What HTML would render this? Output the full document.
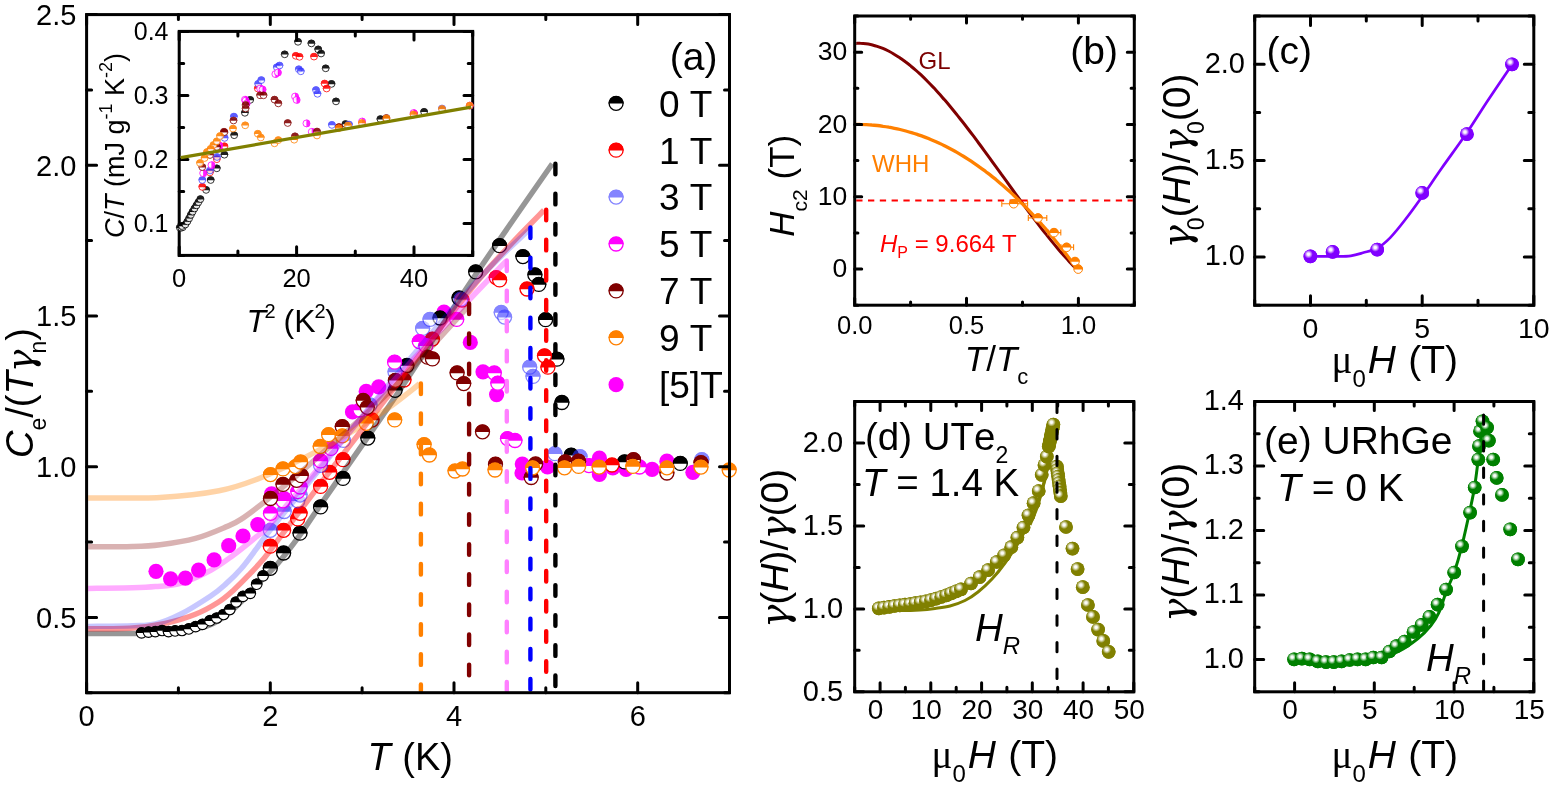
<!DOCTYPE html><html><head><meta charset="utf-8"><style>html,body{margin:0;padding:0;background:#fff;overflow:hidden}svg{display:block;font-kerning:none}</style></head><body><svg width="1550" height="790" viewBox="0 0 1550 790" style="font-family:'Liberation Sans',sans-serif">
<defs>
<radialGradient id="gsv" cx="0.36" cy="0.34" r="0.5"><stop offset="0" stop-color="#fff"/><stop offset="0.18" stop-color="#fff" stop-opacity="0.95"/><stop offset="0.62" stop-color="#8000ff"/><stop offset="1" stop-color="#8000ff"/></radialGradient>
<radialGradient id="gso" cx="0.36" cy="0.34" r="0.5"><stop offset="0" stop-color="#fff"/><stop offset="0.18" stop-color="#fff" stop-opacity="0.95"/><stop offset="0.62" stop-color="#808000"/><stop offset="1" stop-color="#808000"/></radialGradient>
<radialGradient id="gsg" cx="0.36" cy="0.34" r="0.5"><stop offset="0" stop-color="#fff"/><stop offset="0.18" stop-color="#fff" stop-opacity="0.95"/><stop offset="0.62" stop-color="#008000"/><stop offset="1" stop-color="#008000"/></radialGradient>
</defs>
<rect width="1550" height="790" fill="#fff"/>
<g transform="translate(156.0,571.3)"><circle r="7.6" fill="#ff00ff"/></g>
<g transform="translate(170.6,578.8)"><circle r="7.6" fill="#ff00ff"/></g>
<g transform="translate(185.4,578.1)"><circle r="7.6" fill="#ff00ff"/></g>
<g transform="translate(198.6,570.1)"><circle r="7.6" fill="#ff00ff"/></g>
<g transform="translate(214.1,559.9)"><circle r="7.6" fill="#ff00ff"/></g>
<g transform="translate(228.7,545.7)"><circle r="7.6" fill="#ff00ff"/></g>
<g transform="translate(243.0,536.0)"><circle r="7.6" fill="#ff00ff"/></g>
<g transform="translate(257.8,524.6)"><circle r="7.6" fill="#ff00ff"/></g>
<g transform="translate(271.6,493.9)"><circle r="7.6" fill="#ff00ff"/></g>
<g transform="translate(284.2,498.5)"><circle r="7.6" fill="#ff00ff"/></g>
<g transform="translate(352.5,411.9)"><circle r="7.6" fill="#ff00ff"/></g>
<g transform="translate(366.2,391.4)"><circle r="7.6" fill="#ff00ff"/></g>
<g transform="translate(378.7,386.8)"><circle r="7.6" fill="#ff00ff"/></g>
<g transform="translate(444.0,312.0)"><circle r="7.6" fill="#ff00ff"/></g>
<g transform="translate(470.3,342.4)"><circle r="7.6" fill="#ff00ff"/></g>
<g transform="translate(483.0,371.8)"><circle r="7.6" fill="#ff00ff"/></g>
<g transform="translate(496.6,394.6)"><circle r="7.6" fill="#ff00ff"/></g>
<g transform="translate(522.3,464.0)"><circle r="7.6" fill="#ff00ff"/></g>
<g transform="translate(522.0,473.0)"><circle r="7.6" fill="#ff00ff"/></g>
<g transform="translate(547.5,467.0)"><circle r="7.6" fill="#ff00ff"/></g>
<g transform="translate(599.4,458.2)"><circle r="7.6" fill="#ff00ff"/></g>
<g transform="translate(599.4,474.5)"><circle r="7.6" fill="#ff00ff"/></g>
<g transform="translate(612.8,467.8)"><circle r="7.6" fill="#ff00ff"/></g>
<g transform="translate(626.1,469.3)"><circle r="7.6" fill="#ff00ff"/></g>
<g transform="translate(652.1,469.3)"><circle r="7.6" fill="#ff00ff"/></g>
<g transform="translate(666.9,461.2)"><circle r="7.6" fill="#ff00ff"/></g>
<g transform="translate(692.9,472.3)"><circle r="7.6" fill="#ff00ff"/></g>
<g transform="translate(270.3,568.3)"><circle r="7.0" fill="#fff" stroke="#000000" stroke-width="1.3"/><path d="M-7.65,0.3A7.65,7.65 0 0 1 7.65,0.3Z" fill="#000000"/></g>
<g transform="translate(283.6,553.0)"><circle r="7.0" fill="#fff" stroke="#000000" stroke-width="1.3"/><path d="M-7.65,0.3A7.65,7.65 0 0 1 7.65,0.3Z" fill="#000000"/></g>
<g transform="translate(300.0,533.2)"><circle r="7.0" fill="#fff" stroke="#000000" stroke-width="1.3"/><path d="M-7.65,0.3A7.65,7.65 0 0 1 7.65,0.3Z" fill="#000000"/></g>
<g transform="translate(320.6,506.9)"><circle r="7.0" fill="#fff" stroke="#000000" stroke-width="1.3"/><path d="M-7.65,0.3A7.65,7.65 0 0 1 7.65,0.3Z" fill="#000000"/></g>
<g transform="translate(343.0,478.4)"><circle r="7.0" fill="#fff" stroke="#000000" stroke-width="1.3"/><path d="M-7.65,0.3A7.65,7.65 0 0 1 7.65,0.3Z" fill="#000000"/></g>
<g transform="translate(367.8,438.1)"><circle r="7.0" fill="#fff" stroke="#000000" stroke-width="1.3"/><path d="M-7.65,0.3A7.65,7.65 0 0 1 7.65,0.3Z" fill="#000000"/></g>
<g transform="translate(395.1,390.3)"><circle r="7.0" fill="#fff" stroke="#000000" stroke-width="1.3"/><path d="M-7.65,0.3A7.65,7.65 0 0 1 7.65,0.3Z" fill="#000000"/></g>
<g transform="translate(406.9,365.5)"><circle r="7.0" fill="#fff" stroke="#000000" stroke-width="1.3"/><path d="M-7.65,0.3A7.65,7.65 0 0 1 7.65,0.3Z" fill="#000000"/></g>
<g transform="translate(440.0,318.0)"><circle r="7.0" fill="#fff" stroke="#000000" stroke-width="1.3"/><path d="M-7.65,0.3A7.65,7.65 0 0 1 7.65,0.3Z" fill="#000000"/></g>
<g transform="translate(459.0,298.0)"><circle r="7.0" fill="#fff" stroke="#000000" stroke-width="1.3"/><path d="M-7.65,0.3A7.65,7.65 0 0 1 7.65,0.3Z" fill="#000000"/></g>
<g transform="translate(475.7,271.9)"><circle r="7.0" fill="#fff" stroke="#000000" stroke-width="1.3"/><path d="M-7.65,0.3A7.65,7.65 0 0 1 7.65,0.3Z" fill="#000000"/></g>
<g transform="translate(499.6,245.7)"><circle r="7.0" fill="#fff" stroke="#000000" stroke-width="1.3"/><path d="M-7.65,0.3A7.65,7.65 0 0 1 7.65,0.3Z" fill="#000000"/></g>
<g transform="translate(522.9,256.6)"><circle r="7.0" fill="#fff" stroke="#000000" stroke-width="1.3"/><path d="M-7.65,0.3A7.65,7.65 0 0 1 7.65,0.3Z" fill="#000000"/></g>
<g transform="translate(534.9,274.9)"><circle r="7.0" fill="#fff" stroke="#000000" stroke-width="1.3"/><path d="M-7.65,0.3A7.65,7.65 0 0 1 7.65,0.3Z" fill="#000000"/></g>
<g transform="translate(538.8,284.4)"><circle r="7.0" fill="#fff" stroke="#000000" stroke-width="1.3"/><path d="M-7.65,0.3A7.65,7.65 0 0 1 7.65,0.3Z" fill="#000000"/></g>
<g transform="translate(545.6,319.7)"><circle r="7.0" fill="#fff" stroke="#000000" stroke-width="1.3"/><path d="M-7.65,0.3A7.65,7.65 0 0 1 7.65,0.3Z" fill="#000000"/></g>
<g transform="translate(556.9,359.2)"><circle r="7.0" fill="#fff" stroke="#000000" stroke-width="1.3"/><path d="M-7.65,0.3A7.65,7.65 0 0 1 7.65,0.3Z" fill="#000000"/></g>
<g transform="translate(561.9,402.5)"><circle r="7.0" fill="#fff" stroke="#000000" stroke-width="1.3"/><path d="M-7.65,0.3A7.65,7.65 0 0 1 7.65,0.3Z" fill="#000000"/></g>
<g transform="translate(571.2,455.2)"><circle r="7.0" fill="#fff" stroke="#000000" stroke-width="1.3"/><path d="M-7.65,0.3A7.65,7.65 0 0 1 7.65,0.3Z" fill="#000000"/></g>
<g transform="translate(624.6,461.9)"><circle r="7.0" fill="#fff" stroke="#000000" stroke-width="1.3"/><path d="M-7.65,0.3A7.65,7.65 0 0 1 7.65,0.3Z" fill="#000000"/></g>
<g transform="translate(680.3,463.4)"><circle r="7.0" fill="#fff" stroke="#000000" stroke-width="1.3"/><path d="M-7.65,0.3A7.65,7.65 0 0 1 7.65,0.3Z" fill="#000000"/></g>
<g transform="translate(270.3,546.2)"><circle r="7.0" fill="#fff" stroke="#ff0000" stroke-width="1.3"/><path d="M-7.65,0.3A7.65,7.65 0 0 1 7.65,0.3Z" fill="#ff0000"/></g>
<g transform="translate(283.6,530.3)"><circle r="7.0" fill="#fff" stroke="#ff0000" stroke-width="1.3"/><path d="M-7.65,0.3A7.65,7.65 0 0 1 7.65,0.3Z" fill="#ff0000"/></g>
<g transform="translate(297.7,518.9)"><circle r="7.0" fill="#fff" stroke="#ff0000" stroke-width="1.3"/><path d="M-7.65,0.3A7.65,7.65 0 0 1 7.65,0.3Z" fill="#ff0000"/></g>
<g transform="translate(300.1,513.3)"><circle r="7.0" fill="#fff" stroke="#ff0000" stroke-width="1.3"/><path d="M-7.65,0.3A7.65,7.65 0 0 1 7.65,0.3Z" fill="#ff0000"/></g>
<g transform="translate(320.6,486.4)"><circle r="7.0" fill="#fff" stroke="#ff0000" stroke-width="1.3"/><path d="M-7.65,0.3A7.65,7.65 0 0 1 7.65,0.3Z" fill="#ff0000"/></g>
<g transform="translate(329.7,472.3)"><circle r="7.0" fill="#fff" stroke="#ff0000" stroke-width="1.3"/><path d="M-7.65,0.3A7.65,7.65 0 0 1 7.65,0.3Z" fill="#ff0000"/></g>
<g transform="translate(343.0,459.7)"><circle r="7.0" fill="#fff" stroke="#ff0000" stroke-width="1.3"/><path d="M-7.65,0.3A7.65,7.65 0 0 1 7.65,0.3Z" fill="#ff0000"/></g>
<g transform="translate(372.0,420.0)"><circle r="7.0" fill="#fff" stroke="#ff0000" stroke-width="1.3"/><path d="M-7.65,0.3A7.65,7.65 0 0 1 7.65,0.3Z" fill="#ff0000"/></g>
<g transform="translate(404.0,380.0)"><circle r="7.0" fill="#fff" stroke="#ff0000" stroke-width="1.3"/><path d="M-7.65,0.3A7.65,7.65 0 0 1 7.65,0.3Z" fill="#ff0000"/></g>
<g transform="translate(432.4,339.1)"><circle r="7.0" fill="#fff" stroke="#ff0000" stroke-width="1.3"/><path d="M-7.65,0.3A7.65,7.65 0 0 1 7.65,0.3Z" fill="#ff0000"/></g>
<g transform="translate(462.0,300.0)"><circle r="7.0" fill="#fff" stroke="#ff0000" stroke-width="1.3"/><path d="M-7.65,0.3A7.65,7.65 0 0 1 7.65,0.3Z" fill="#ff0000"/></g>
<g transform="translate(496.2,277.6)"><circle r="7.0" fill="#fff" stroke="#ff0000" stroke-width="1.3"/><path d="M-7.65,0.3A7.65,7.65 0 0 1 7.65,0.3Z" fill="#ff0000"/></g>
<g transform="translate(499.6,279.9)"><circle r="7.0" fill="#fff" stroke="#ff0000" stroke-width="1.3"/><path d="M-7.65,0.3A7.65,7.65 0 0 1 7.65,0.3Z" fill="#ff0000"/></g>
<g transform="translate(527.0,289.0)"><circle r="7.0" fill="#fff" stroke="#ff0000" stroke-width="1.3"/><path d="M-7.65,0.3A7.65,7.65 0 0 1 7.65,0.3Z" fill="#ff0000"/></g>
<g transform="translate(544.5,355.8)"><circle r="7.0" fill="#fff" stroke="#ff0000" stroke-width="1.3"/><path d="M-7.65,0.3A7.65,7.65 0 0 1 7.65,0.3Z" fill="#ff0000"/></g>
<g transform="translate(547.9,367.2)"><circle r="7.0" fill="#fff" stroke="#ff0000" stroke-width="1.3"/><path d="M-7.65,0.3A7.65,7.65 0 0 1 7.65,0.3Z" fill="#ff0000"/></g>
<g transform="translate(566.0,464.0)"><circle r="7.0" fill="#fff" stroke="#ff0000" stroke-width="1.3"/><path d="M-7.65,0.3A7.65,7.65 0 0 1 7.65,0.3Z" fill="#ff0000"/></g>
<g transform="translate(612.0,465.0)"><circle r="7.0" fill="#fff" stroke="#ff0000" stroke-width="1.3"/><path d="M-7.65,0.3A7.65,7.65 0 0 1 7.65,0.3Z" fill="#ff0000"/></g>
<g transform="translate(270.3,530.3)" opacity="0.6"><circle r="7.0" fill="#fff" stroke="#3333ff" stroke-width="1.3"/><path d="M-7.65,0.3A7.65,7.65 0 0 1 7.65,0.3Z" fill="#3333ff"/></g>
<g transform="translate(284.2,511.5)" opacity="0.6"><circle r="7.0" fill="#fff" stroke="#3333ff" stroke-width="1.3"/><path d="M-7.65,0.3A7.65,7.65 0 0 1 7.65,0.3Z" fill="#3333ff"/></g>
<g transform="translate(297.8,500.8)" opacity="0.6"><circle r="7.0" fill="#fff" stroke="#3333ff" stroke-width="1.3"/><path d="M-7.65,0.3A7.65,7.65 0 0 1 7.65,0.3Z" fill="#3333ff"/></g>
<g transform="translate(300.1,495.0)" opacity="0.6"><circle r="7.0" fill="#fff" stroke="#3333ff" stroke-width="1.3"/><path d="M-7.65,0.3A7.65,7.65 0 0 1 7.65,0.3Z" fill="#3333ff"/></g>
<g transform="translate(320.6,465.4)" opacity="0.6"><circle r="7.0" fill="#fff" stroke="#3333ff" stroke-width="1.3"/><path d="M-7.65,0.3A7.65,7.65 0 0 1 7.65,0.3Z" fill="#3333ff"/></g>
<g transform="translate(343.4,440.4)" opacity="0.6"><circle r="7.0" fill="#fff" stroke="#3333ff" stroke-width="1.3"/><path d="M-7.65,0.3A7.65,7.65 0 0 1 7.65,0.3Z" fill="#3333ff"/></g>
<g transform="translate(370.0,405.0)" opacity="0.6"><circle r="7.0" fill="#fff" stroke="#3333ff" stroke-width="1.3"/><path d="M-7.65,0.3A7.65,7.65 0 0 1 7.65,0.3Z" fill="#3333ff"/></g>
<g transform="translate(395.0,372.0)" opacity="0.6"><circle r="7.0" fill="#fff" stroke="#3333ff" stroke-width="1.3"/><path d="M-7.65,0.3A7.65,7.65 0 0 1 7.65,0.3Z" fill="#3333ff"/></g>
<g transform="translate(422.6,328.4)" opacity="0.6"><circle r="7.0" fill="#fff" stroke="#3333ff" stroke-width="1.3"/><path d="M-7.65,0.3A7.65,7.65 0 0 1 7.65,0.3Z" fill="#3333ff"/></g>
<g transform="translate(430.0,319.4)" opacity="0.6"><circle r="7.0" fill="#fff" stroke="#3333ff" stroke-width="1.3"/><path d="M-7.65,0.3A7.65,7.65 0 0 1 7.65,0.3Z" fill="#3333ff"/></g>
<g transform="translate(460.9,299.2)" opacity="0.6"><circle r="7.0" fill="#fff" stroke="#3333ff" stroke-width="1.3"/><path d="M-7.65,0.3A7.65,7.65 0 0 1 7.65,0.3Z" fill="#3333ff"/></g>
<g transform="translate(501.2,312.5)" opacity="0.6"><circle r="7.0" fill="#fff" stroke="#3333ff" stroke-width="1.3"/><path d="M-7.65,0.3A7.65,7.65 0 0 1 7.65,0.3Z" fill="#3333ff"/></g>
<g transform="translate(504.6,317.1)" opacity="0.6"><circle r="7.0" fill="#fff" stroke="#3333ff" stroke-width="1.3"/><path d="M-7.65,0.3A7.65,7.65 0 0 1 7.65,0.3Z" fill="#3333ff"/></g>
<g transform="translate(529.7,367.2)" opacity="0.6"><circle r="7.0" fill="#fff" stroke="#3333ff" stroke-width="1.3"/><path d="M-7.65,0.3A7.65,7.65 0 0 1 7.65,0.3Z" fill="#3333ff"/></g>
<g transform="translate(533.0,376.4)" opacity="0.6"><circle r="7.0" fill="#fff" stroke="#3333ff" stroke-width="1.3"/><path d="M-7.65,0.3A7.65,7.65 0 0 1 7.65,0.3Z" fill="#3333ff"/></g>
<g transform="translate(554.9,453.7)" opacity="0.6"><circle r="7.0" fill="#fff" stroke="#3333ff" stroke-width="1.3"/><path d="M-7.65,0.3A7.65,7.65 0 0 1 7.65,0.3Z" fill="#3333ff"/></g>
<g transform="translate(580.0,456.7)" opacity="0.6"><circle r="7.0" fill="#fff" stroke="#3333ff" stroke-width="1.3"/><path d="M-7.65,0.3A7.65,7.65 0 0 1 7.65,0.3Z" fill="#3333ff"/></g>
<g transform="translate(701.8,459.7)" opacity="0.6"><circle r="7.0" fill="#fff" stroke="#3333ff" stroke-width="1.3"/><path d="M-7.65,0.3A7.65,7.65 0 0 1 7.65,0.3Z" fill="#3333ff"/></g>
<g transform="translate(270.5,513.3)"><circle r="7.0" fill="#fff" stroke="#ff00ff" stroke-width="1.3"/><path d="M-7.65,0.3A7.65,7.65 0 0 1 7.65,0.3Z" fill="#ff00ff"/></g>
<g transform="translate(283.0,500.8)"><circle r="7.0" fill="#fff" stroke="#ff00ff" stroke-width="1.3"/><path d="M-7.65,0.3A7.65,7.65 0 0 1 7.65,0.3Z" fill="#ff00ff"/></g>
<g transform="translate(297.8,491.6)"><circle r="7.0" fill="#fff" stroke="#ff00ff" stroke-width="1.3"/><path d="M-7.65,0.3A7.65,7.65 0 0 1 7.65,0.3Z" fill="#ff00ff"/></g>
<g transform="translate(300.1,487.0)"><circle r="7.0" fill="#fff" stroke="#ff00ff" stroke-width="1.3"/><path d="M-7.65,0.3A7.65,7.65 0 0 1 7.65,0.3Z" fill="#ff00ff"/></g>
<g transform="translate(320.6,460.9)"><circle r="7.0" fill="#fff" stroke="#ff00ff" stroke-width="1.3"/><path d="M-7.65,0.3A7.65,7.65 0 0 1 7.65,0.3Z" fill="#ff00ff"/></g>
<g transform="translate(330.9,448.4)"><circle r="7.0" fill="#fff" stroke="#ff00ff" stroke-width="1.3"/><path d="M-7.65,0.3A7.65,7.65 0 0 1 7.65,0.3Z" fill="#ff00ff"/></g>
<g transform="translate(360.0,410.0)"><circle r="7.0" fill="#fff" stroke="#ff00ff" stroke-width="1.3"/><path d="M-7.65,0.3A7.65,7.65 0 0 1 7.65,0.3Z" fill="#ff00ff"/></g>
<g transform="translate(394.6,362.2)"><circle r="7.0" fill="#fff" stroke="#ff00ff" stroke-width="1.3"/><path d="M-7.65,0.3A7.65,7.65 0 0 1 7.65,0.3Z" fill="#ff00ff"/></g>
<g transform="translate(419.3,341.6)"><circle r="7.0" fill="#fff" stroke="#ff00ff" stroke-width="1.3"/><path d="M-7.65,0.3A7.65,7.65 0 0 1 7.65,0.3Z" fill="#ff00ff"/></g>
<g transform="translate(425.8,345.7)"><circle r="7.0" fill="#fff" stroke="#ff00ff" stroke-width="1.3"/><path d="M-7.65,0.3A7.65,7.65 0 0 1 7.65,0.3Z" fill="#ff00ff"/></g>
<g transform="translate(456.7,319.4)"><circle r="7.0" fill="#fff" stroke="#ff00ff" stroke-width="1.3"/><path d="M-7.65,0.3A7.65,7.65 0 0 1 7.65,0.3Z" fill="#ff00ff"/></g>
<g transform="translate(494.3,373.0)"><circle r="7.0" fill="#fff" stroke="#ff00ff" stroke-width="1.3"/><path d="M-7.65,0.3A7.65,7.65 0 0 1 7.65,0.3Z" fill="#ff00ff"/></g>
<g transform="translate(497.8,383.2)"><circle r="7.0" fill="#fff" stroke="#ff00ff" stroke-width="1.3"/><path d="M-7.65,0.3A7.65,7.65 0 0 1 7.65,0.3Z" fill="#ff00ff"/></g>
<g transform="translate(507.5,438.6)"><circle r="7.0" fill="#fff" stroke="#ff00ff" stroke-width="1.3"/><path d="M-7.65,0.3A7.65,7.65 0 0 1 7.65,0.3Z" fill="#ff00ff"/></g>
<g transform="translate(515.0,440.5)"><circle r="7.0" fill="#fff" stroke="#ff00ff" stroke-width="1.3"/><path d="M-7.65,0.3A7.65,7.65 0 0 1 7.65,0.3Z" fill="#ff00ff"/></g>
<g transform="translate(589.0,465.6)"><circle r="7.0" fill="#fff" stroke="#ff00ff" stroke-width="1.3"/><path d="M-7.65,0.3A7.65,7.65 0 0 1 7.65,0.3Z" fill="#ff00ff"/></g>
<g transform="translate(639.5,467.0)"><circle r="7.0" fill="#fff" stroke="#ff00ff" stroke-width="1.3"/><path d="M-7.65,0.3A7.65,7.65 0 0 1 7.65,0.3Z" fill="#ff00ff"/></g>
<g transform="translate(270.5,498.5)"><circle r="7.0" fill="#fff" stroke="#800000" stroke-width="1.3"/><path d="M-7.65,0.3A7.65,7.65 0 0 1 7.65,0.3Z" fill="#800000"/></g>
<g transform="translate(283.0,484.4)"><circle r="7.0" fill="#fff" stroke="#800000" stroke-width="1.3"/><path d="M-7.65,0.3A7.65,7.65 0 0 1 7.65,0.3Z" fill="#800000"/></g>
<g transform="translate(296.7,480.3)"><circle r="7.0" fill="#fff" stroke="#800000" stroke-width="1.3"/><path d="M-7.65,0.3A7.65,7.65 0 0 1 7.65,0.3Z" fill="#800000"/></g>
<g transform="translate(301.3,475.7)"><circle r="7.0" fill="#fff" stroke="#800000" stroke-width="1.3"/><path d="M-7.65,0.3A7.65,7.65 0 0 1 7.65,0.3Z" fill="#800000"/></g>
<g transform="translate(342.3,426.7)"><circle r="7.0" fill="#fff" stroke="#800000" stroke-width="1.3"/><path d="M-7.65,0.3A7.65,7.65 0 0 1 7.65,0.3Z" fill="#800000"/></g>
<g transform="translate(363.2,400.5)"><circle r="7.0" fill="#fff" stroke="#800000" stroke-width="1.3"/><path d="M-7.65,0.3A7.65,7.65 0 0 1 7.65,0.3Z" fill="#800000"/></g>
<g transform="translate(367.3,407.3)"><circle r="7.0" fill="#fff" stroke="#800000" stroke-width="1.3"/><path d="M-7.65,0.3A7.65,7.65 0 0 1 7.65,0.3Z" fill="#800000"/></g>
<g transform="translate(395.4,380.3)"><circle r="7.0" fill="#fff" stroke="#800000" stroke-width="1.3"/><path d="M-7.65,0.3A7.65,7.65 0 0 1 7.65,0.3Z" fill="#800000"/></g>
<g transform="translate(427.5,357.2)"><circle r="7.0" fill="#fff" stroke="#800000" stroke-width="1.3"/><path d="M-7.65,0.3A7.65,7.65 0 0 1 7.65,0.3Z" fill="#800000"/></g>
<g transform="translate(432.4,358.9)"><circle r="7.0" fill="#fff" stroke="#800000" stroke-width="1.3"/><path d="M-7.65,0.3A7.65,7.65 0 0 1 7.65,0.3Z" fill="#800000"/></g>
<g transform="translate(457.1,372.9)"><circle r="7.0" fill="#fff" stroke="#800000" stroke-width="1.3"/><path d="M-7.65,0.3A7.65,7.65 0 0 1 7.65,0.3Z" fill="#800000"/></g>
<g transform="translate(463.7,383.6)"><circle r="7.0" fill="#fff" stroke="#800000" stroke-width="1.3"/><path d="M-7.65,0.3A7.65,7.65 0 0 1 7.65,0.3Z" fill="#800000"/></g>
<g transform="translate(482.5,431.8)"><circle r="7.0" fill="#fff" stroke="#800000" stroke-width="1.3"/><path d="M-7.65,0.3A7.65,7.65 0 0 1 7.65,0.3Z" fill="#800000"/></g>
<g transform="translate(495.5,464.1)"><circle r="7.0" fill="#fff" stroke="#800000" stroke-width="1.3"/><path d="M-7.65,0.3A7.65,7.65 0 0 1 7.65,0.3Z" fill="#800000"/></g>
<g transform="translate(531.2,477.5)"><circle r="7.0" fill="#fff" stroke="#800000" stroke-width="1.3"/><path d="M-7.65,0.3A7.65,7.65 0 0 1 7.65,0.3Z" fill="#800000"/></g>
<g transform="translate(535.6,464.0)"><circle r="7.0" fill="#fff" stroke="#800000" stroke-width="1.3"/><path d="M-7.65,0.3A7.65,7.65 0 0 1 7.65,0.3Z" fill="#800000"/></g>
<g transform="translate(565.3,461.9)"><circle r="7.0" fill="#fff" stroke="#800000" stroke-width="1.3"/><path d="M-7.65,0.3A7.65,7.65 0 0 1 7.65,0.3Z" fill="#800000"/></g>
<g transform="translate(578.6,461.2)"><circle r="7.0" fill="#fff" stroke="#800000" stroke-width="1.3"/><path d="M-7.65,0.3A7.65,7.65 0 0 1 7.65,0.3Z" fill="#800000"/></g>
<g transform="translate(633.5,459.7)"><circle r="7.0" fill="#fff" stroke="#800000" stroke-width="1.3"/><path d="M-7.65,0.3A7.65,7.65 0 0 1 7.65,0.3Z" fill="#800000"/></g>
<g transform="translate(666.9,473.0)"><circle r="7.0" fill="#fff" stroke="#800000" stroke-width="1.3"/><path d="M-7.65,0.3A7.65,7.65 0 0 1 7.65,0.3Z" fill="#800000"/></g>
<g transform="translate(701.0,462.6)"><circle r="7.0" fill="#fff" stroke="#800000" stroke-width="1.3"/><path d="M-7.65,0.3A7.65,7.65 0 0 1 7.65,0.3Z" fill="#800000"/></g>
<g transform="translate(270.5,474.6)"><circle r="7.0" fill="#fff" stroke="#ff8000" stroke-width="1.3"/><path d="M-7.65,0.3A7.65,7.65 0 0 1 7.65,0.3Z" fill="#ff8000"/></g>
<g transform="translate(283.0,468.9)"><circle r="7.0" fill="#fff" stroke="#ff8000" stroke-width="1.3"/><path d="M-7.65,0.3A7.65,7.65 0 0 1 7.65,0.3Z" fill="#ff8000"/></g>
<g transform="translate(295.6,466.6)"><circle r="7.0" fill="#fff" stroke="#ff8000" stroke-width="1.3"/><path d="M-7.65,0.3A7.65,7.65 0 0 1 7.65,0.3Z" fill="#ff8000"/></g>
<g transform="translate(300.6,462.0)"><circle r="7.0" fill="#fff" stroke="#ff8000" stroke-width="1.3"/><path d="M-7.65,0.3A7.65,7.65 0 0 1 7.65,0.3Z" fill="#ff8000"/></g>
<g transform="translate(320.2,446.5)"><circle r="7.0" fill="#fff" stroke="#ff8000" stroke-width="1.3"/><path d="M-7.65,0.3A7.65,7.65 0 0 1 7.65,0.3Z" fill="#ff8000"/></g>
<g transform="translate(328.6,434.7)"><circle r="7.0" fill="#fff" stroke="#ff8000" stroke-width="1.3"/><path d="M-7.65,0.3A7.65,7.65 0 0 1 7.65,0.3Z" fill="#ff8000"/></g>
<g transform="translate(342.3,435.8)"><circle r="7.0" fill="#fff" stroke="#ff8000" stroke-width="1.3"/><path d="M-7.65,0.3A7.65,7.65 0 0 1 7.65,0.3Z" fill="#ff8000"/></g>
<g transform="translate(366.2,423.3)"><circle r="7.0" fill="#fff" stroke="#ff8000" stroke-width="1.3"/><path d="M-7.65,0.3A7.65,7.65 0 0 1 7.65,0.3Z" fill="#ff8000"/></g>
<g transform="translate(394.7,419.9)"><circle r="7.0" fill="#fff" stroke="#ff8000" stroke-width="1.3"/><path d="M-7.65,0.3A7.65,7.65 0 0 1 7.65,0.3Z" fill="#ff8000"/></g>
<g transform="translate(424.1,444.7)"><circle r="7.0" fill="#fff" stroke="#ff8000" stroke-width="1.3"/><path d="M-7.65,0.3A7.65,7.65 0 0 1 7.65,0.3Z" fill="#ff8000"/></g>
<g transform="translate(429.4,455.0)"><circle r="7.0" fill="#fff" stroke="#ff8000" stroke-width="1.3"/><path d="M-7.65,0.3A7.65,7.65 0 0 1 7.65,0.3Z" fill="#ff8000"/></g>
<g transform="translate(455.0,471.0)"><circle r="7.0" fill="#fff" stroke="#ff8000" stroke-width="1.3"/><path d="M-7.65,0.3A7.65,7.65 0 0 1 7.65,0.3Z" fill="#ff8000"/></g>
<g transform="translate(462.5,469.0)"><circle r="7.0" fill="#fff" stroke="#ff8000" stroke-width="1.3"/><path d="M-7.65,0.3A7.65,7.65 0 0 1 7.65,0.3Z" fill="#ff8000"/></g>
<g transform="translate(495.0,470.0)"><circle r="7.0" fill="#fff" stroke="#ff8000" stroke-width="1.3"/><path d="M-7.65,0.3A7.65,7.65 0 0 1 7.65,0.3Z" fill="#ff8000"/></g>
<g transform="translate(532.6,467.8)"><circle r="7.0" fill="#fff" stroke="#ff8000" stroke-width="1.3"/><path d="M-7.65,0.3A7.65,7.65 0 0 1 7.65,0.3Z" fill="#ff8000"/></g>
<g transform="translate(564.5,467.8)"><circle r="7.0" fill="#fff" stroke="#ff8000" stroke-width="1.3"/><path d="M-7.65,0.3A7.65,7.65 0 0 1 7.65,0.3Z" fill="#ff8000"/></g>
<g transform="translate(578.6,466.4)"><circle r="7.0" fill="#fff" stroke="#ff8000" stroke-width="1.3"/><path d="M-7.65,0.3A7.65,7.65 0 0 1 7.65,0.3Z" fill="#ff8000"/></g>
<g transform="translate(599.1,467.1)"><circle r="7.0" fill="#fff" stroke="#ff8000" stroke-width="1.3"/><path d="M-7.65,0.3A7.65,7.65 0 0 1 7.65,0.3Z" fill="#ff8000"/></g>
<g transform="translate(632.8,466.4)"><circle r="7.0" fill="#fff" stroke="#ff8000" stroke-width="1.3"/><path d="M-7.65,0.3A7.65,7.65 0 0 1 7.65,0.3Z" fill="#ff8000"/></g>
<g transform="translate(666.9,467.8)"><circle r="7.0" fill="#fff" stroke="#ff8000" stroke-width="1.3"/><path d="M-7.65,0.3A7.65,7.65 0 0 1 7.65,0.3Z" fill="#ff8000"/></g>
<g transform="translate(701.0,467.1)"><circle r="7.0" fill="#fff" stroke="#ff8000" stroke-width="1.3"/><path d="M-7.65,0.3A7.65,7.65 0 0 1 7.65,0.3Z" fill="#ff8000"/></g>
<g transform="translate(729.2,470.0)"><circle r="7.0" fill="#fff" stroke="#ff8000" stroke-width="1.3"/><path d="M-7.65,0.3A7.65,7.65 0 0 1 7.65,0.3Z" fill="#ff8000"/></g>
<path d="M88.1,633.6C97.0,633.6 126.7,633.7 141.7,633.3C156.8,633.0 167.7,632.7 178.4,631.5C189.2,630.4 198.4,628.9 206.0,626.4C213.7,623.9 218.3,621.1 224.4,616.8C230.5,612.4 236.6,606.2 242.7,600.2C248.9,594.1 255.3,586.7 261.1,580.6C266.9,574.5 271.2,571.2 277.6,563.7C284.1,556.2 292.7,545.0 299.7,535.4C306.7,525.7 304.4,528.3 319.9,505.8C335.4,483.3 367.0,438.8 392.9,400.4C418.8,361.9 448.7,314.7 475.2,275.3C501.8,235.9 539.4,182.4 552.3,163.8" fill="none" stroke="#000000" stroke-opacity="0.41" stroke-width="5.5" stroke-linecap="butt"/>
<path d="M88.1,628.8C95.5,628.7 119.7,628.8 132.5,627.9C145.4,627.0 154.7,625.6 165.2,623.4C175.7,621.1 186.6,617.9 195.4,614.3C204.3,610.8 212.0,606.3 218.3,602.3C224.7,598.3 228.4,594.8 233.5,590.2C238.5,585.7 243.6,580.4 248.6,575.2C253.7,569.9 258.8,564.7 263.9,558.6C268.9,552.5 268.8,552.3 279.0,538.7C289.3,525.1 307.8,500.3 325.4,477.2C343.0,454.2 359.1,433.2 384.7,400.4C410.2,367.5 452.0,311.8 478.5,280.1C505.1,248.4 533.1,221.8 544.0,210.2" fill="none" stroke="#ff0000" stroke-opacity="0.41" stroke-width="5.5" stroke-linecap="butt"/>
<path d="M88.1,626.4C95.5,626.3 121.3,626.2 132.5,625.8C143.8,625.4 147.5,625.9 155.5,624.0C163.5,622.1 171.2,619.0 180.4,614.3C189.6,609.7 203.1,601.0 210.7,596.0C218.3,590.9 220.9,588.4 225.9,583.9C231.0,579.4 236.0,574.7 241.1,568.8C246.2,563.0 251.8,555.0 256.3,548.9C260.9,542.9 259.9,543.1 268.4,532.4C276.8,521.7 288.3,507.8 307.0,484.7C325.7,461.7 353.0,427.5 380.5,394.3C408.1,361.2 447.4,313.5 472.4,285.8C497.3,258.2 520.6,238.1 530.2,228.6" fill="none" stroke="#0000ff" stroke-opacity="0.22" stroke-width="5.5" stroke-linecap="butt"/>
<path d="M88.1,588.4C95.5,588.3 121.3,588.1 132.5,587.8C143.8,587.5 147.5,587.4 155.5,586.6C163.5,585.9 171.2,586.0 180.4,583.3C189.6,580.6 201.8,575.1 210.7,570.3C219.6,565.6 226.0,560.5 233.6,555.0C241.2,549.4 250.5,541.7 256.3,536.9C262.1,532.1 259.9,535.5 268.4,526.3C276.8,517.1 286.8,505.2 307.0,481.7C327.3,458.2 365.2,412.9 389.7,385.3C414.2,357.7 434.6,336.7 454.0,316.0C473.4,295.2 497.6,270.0 506.4,260.8" fill="none" stroke="#ff00ff" stroke-opacity="0.33" stroke-width="5.5" stroke-linecap="butt"/>
<path d="M88.1,546.8C95.5,546.8 120.5,546.9 132.5,546.5C144.5,546.2 149.6,546.1 160.1,544.7C170.6,543.4 184.6,541.4 195.5,538.4C206.5,535.4 218.4,530.1 225.9,526.9C233.5,523.8 234.1,523.9 240.9,519.4C247.8,514.9 256.0,508.6 267.0,499.8C278.0,491.0 286.6,484.7 307.0,466.7C327.5,448.6 362.7,418.2 389.7,391.3C416.7,364.4 455.9,319.7 469.2,305.4" fill="none" stroke="#800000" stroke-opacity="0.3" stroke-width="5.5" stroke-linecap="butt"/>
<path d="M88.1,498.0C100.1,497.9 138.3,498.6 160.1,497.4C181.9,496.2 202.1,494.1 219.0,490.8C235.9,487.5 245.3,484.0 261.5,477.5C277.7,471.0 296.8,461.9 316.2,451.6C335.6,441.3 360.5,426.7 377.8,415.4C395.0,404.1 412.7,389.1 419.6,383.8" fill="none" stroke="#ff8000" stroke-opacity="0.35" stroke-width="5.5" stroke-linecap="butt"/>
<g transform="translate(141.6,632.8)"><circle r="5.3" fill="#fff" stroke="#000" stroke-width="1.1"/><path d="M-5.85,0.3A5.85,5.85 0 0 1 5.85,0.3Z" fill="#000"/></g>
<g transform="translate(148.5,632.1)"><circle r="5.3" fill="#fff" stroke="#000" stroke-width="1.1"/><path d="M-5.85,0.3A5.85,5.85 0 0 1 5.85,0.3Z" fill="#000"/></g>
<g transform="translate(155.3,631.6)"><circle r="5.3" fill="#fff" stroke="#000" stroke-width="1.1"/><path d="M-5.85,0.3A5.85,5.85 0 0 1 5.85,0.3Z" fill="#000"/></g>
<g transform="translate(162.1,630.5)"><circle r="5.3" fill="#fff" stroke="#000" stroke-width="1.1"/><path d="M-5.85,0.3A5.85,5.85 0 0 1 5.85,0.3Z" fill="#000"/></g>
<g transform="translate(168.5,631.6)"><circle r="5.3" fill="#fff" stroke="#000" stroke-width="1.1"/><path d="M-5.85,0.3A5.85,5.85 0 0 1 5.85,0.3Z" fill="#000"/></g>
<g transform="translate(175.1,630.9)"><circle r="5.3" fill="#fff" stroke="#000" stroke-width="1.1"/><path d="M-5.85,0.3A5.85,5.85 0 0 1 5.85,0.3Z" fill="#000"/></g>
<g transform="translate(182.0,630.5)"><circle r="5.3" fill="#fff" stroke="#000" stroke-width="1.1"/><path d="M-5.85,0.3A5.85,5.85 0 0 1 5.85,0.3Z" fill="#000"/></g>
<g transform="translate(188.8,628.9)"><circle r="5.3" fill="#fff" stroke="#000" stroke-width="1.1"/><path d="M-5.85,0.3A5.85,5.85 0 0 1 5.85,0.3Z" fill="#000"/></g>
<g transform="translate(195.6,626.6)"><circle r="5.3" fill="#fff" stroke="#000" stroke-width="1.1"/><path d="M-5.85,0.3A5.85,5.85 0 0 1 5.85,0.3Z" fill="#000"/></g>
<g transform="translate(202.5,624.3)"><circle r="5.3" fill="#fff" stroke="#000" stroke-width="1.1"/><path d="M-5.85,0.3A5.85,5.85 0 0 1 5.85,0.3Z" fill="#000"/></g>
<g transform="translate(210.0,620.7)"><circle r="5.3" fill="#fff" stroke="#000" stroke-width="1.1"/><path d="M-5.85,0.3A5.85,5.85 0 0 1 5.85,0.3Z" fill="#000"/></g>
<g transform="translate(216.8,618.0)"><circle r="5.3" fill="#fff" stroke="#000" stroke-width="1.1"/><path d="M-5.85,0.3A5.85,5.85 0 0 1 5.85,0.3Z" fill="#000"/></g>
<g transform="translate(223.6,614.5)"><circle r="5.3" fill="#fff" stroke="#000" stroke-width="1.1"/><path d="M-5.85,0.3A5.85,5.85 0 0 1 5.85,0.3Z" fill="#000"/></g>
<g transform="translate(229.8,609.5)"><circle r="5.3" fill="#fff" stroke="#000" stroke-width="1.1"/><path d="M-5.85,0.3A5.85,5.85 0 0 1 5.85,0.3Z" fill="#000"/></g>
<g transform="translate(236.2,602.0)"><circle r="5.3" fill="#fff" stroke="#000" stroke-width="1.1"/><path d="M-5.85,0.3A5.85,5.85 0 0 1 5.85,0.3Z" fill="#000"/></g>
<g transform="translate(243.0,596.3)"><circle r="5.3" fill="#fff" stroke="#000" stroke-width="1.1"/><path d="M-5.85,0.3A5.85,5.85 0 0 1 5.85,0.3Z" fill="#000"/></g>
<g transform="translate(250.3,593.3)"><circle r="5.3" fill="#fff" stroke="#000" stroke-width="1.1"/><path d="M-5.85,0.3A5.85,5.85 0 0 1 5.85,0.3Z" fill="#000"/></g>
<g transform="translate(256.7,584.2)"><circle r="5.3" fill="#fff" stroke="#000" stroke-width="1.1"/><path d="M-5.85,0.3A5.85,5.85 0 0 1 5.85,0.3Z" fill="#000"/></g>
<g transform="translate(263.1,575.8)"><circle r="5.3" fill="#fff" stroke="#000" stroke-width="1.1"/><path d="M-5.85,0.3A5.85,5.85 0 0 1 5.85,0.3Z" fill="#000"/></g>
<path d="M420.9,383.4V690.7" stroke="#ff8000" stroke-width="4.4" stroke-dasharray="10.6 19.5" stroke-linecap="round" fill="none"/>
<path d="M469.1,303.4V690.7" stroke="#800000" stroke-width="4.4" stroke-dasharray="10.6 19.5" stroke-linecap="round" fill="none"/>
<path d="M506.8,260.5V690.7" stroke="#ff80ff" stroke-width="4.4" stroke-dasharray="10.6 19.5" stroke-linecap="round" fill="none"/>
<path d="M530.4,227.5V690.7" stroke="#0000ff" stroke-width="4.4" stroke-dasharray="10.6 19.5" stroke-linecap="round" fill="none"/>
<path d="M546.2,209.7V690.7" stroke="#ff0000" stroke-width="4.4" stroke-dasharray="10.6 19.5" stroke-linecap="round" fill="none"/>
<path d="M555.4,163.7V690.7" stroke="#000000" stroke-width="4.4" stroke-dasharray="10.6 19.5" stroke-linecap="round" fill="none"/>
<g transform="translate(616.1,103.3)"><circle r="7.0" fill="#fff" stroke="#000000" stroke-width="1.3"/><path d="M-7.65,0.3A7.65,7.65 0 0 1 7.65,0.3Z" fill="#000000"/></g>
<g transform="translate(616.1,150.2)"><circle r="7.0" fill="#fff" stroke="#ff0000" stroke-width="1.3"/><path d="M-7.65,0.3A7.65,7.65 0 0 1 7.65,0.3Z" fill="#ff0000"/></g>
<g transform="translate(616.1,197.1)" opacity="0.6"><circle r="7.0" fill="#fff" stroke="#3333ff" stroke-width="1.3"/><path d="M-7.65,0.3A7.65,7.65 0 0 1 7.65,0.3Z" fill="#3333ff"/></g>
<g transform="translate(616.1,244.0)"><circle r="7.0" fill="#fff" stroke="#ff00ff" stroke-width="1.3"/><path d="M-7.65,0.3A7.65,7.65 0 0 1 7.65,0.3Z" fill="#ff00ff"/></g>
<g transform="translate(616.1,290.9)"><circle r="7.0" fill="#fff" stroke="#800000" stroke-width="1.3"/><path d="M-7.65,0.3A7.65,7.65 0 0 1 7.65,0.3Z" fill="#800000"/></g>
<g transform="translate(616.1,337.8)"><circle r="7.0" fill="#fff" stroke="#ff8000" stroke-width="1.3"/><path d="M-7.65,0.3A7.65,7.65 0 0 1 7.65,0.3Z" fill="#ff8000"/></g>
<g transform="translate(616.1,384.7)"><circle r="7.6" fill="#ff00ff"/></g>
<path d="M86.6,692.7v-10.0M86.6,14.6v10.0M270.3,692.7v-10.0M270.3,14.6v10.0M454.0,692.7v-10.0M454.0,14.6v10.0M637.7,692.7v-10.0M637.7,14.6v10.0M178.4,692.7v-5.0M178.4,14.6v5.0M362.1,692.7v-5.0M362.1,14.6v5.0M545.8,692.7v-5.0M545.8,14.6v5.0M729.5,692.7v-5.0M729.5,14.6v5.0M86.6,617.4h10.0M729.5,617.4h-10.0M86.6,466.7h10.0M729.5,466.7h-10.0M86.6,316.0h10.0M729.5,316.0h-10.0M86.6,165.3h10.0M729.5,165.3h-10.0M86.6,14.6h10.0M729.5,14.6h-10.0M86.6,692.7h5.0M729.5,692.7h-5.0M86.6,617.4h5.0M729.5,617.4h-5.0M86.6,542.0h5.0M729.5,542.0h-5.0M86.6,466.7h5.0M729.5,466.7h-5.0M86.6,391.3h5.0M729.5,391.3h-5.0M86.6,316.0h5.0M729.5,316.0h-5.0M86.6,240.6h5.0M729.5,240.6h-5.0M86.6,165.3h5.0M729.5,165.3h-5.0M86.6,89.9h5.0M729.5,89.9h-5.0M86.6,14.6h5.0M729.5,14.6h-5.0" stroke="#000" stroke-width="3" stroke-linecap="round" fill="none"/>
<rect x="86.6" y="14.6" width="642.9" height="678.1" fill="none" stroke="#000" stroke-width="3" stroke-linejoin="miter"/>
<text x="86.6" y="726.0" font-size="29" text-anchor="middle" >0</text>
<text x="270.3" y="726.0" font-size="29" text-anchor="middle" >2</text>
<text x="454.0" y="726.0" font-size="29" text-anchor="middle" >4</text>
<text x="637.7" y="726.0" font-size="29" text-anchor="middle" >6</text>
<text x="76.4" y="627.7" font-size="29" text-anchor="end" >0.5</text>
<text x="76.4" y="477.0" font-size="29" text-anchor="end" >1.0</text>
<text x="76.4" y="326.4" font-size="29" text-anchor="end" >1.5</text>
<text x="76.4" y="175.7" font-size="29" text-anchor="end" >2.0</text>
<text x="76.4" y="25.0" font-size="29" text-anchor="end" >2.5</text>
<rect x="179.2" y="31.4" width="293.5" height="224.0" fill="#fff"/>
<path d="M179.2,255.4v-8.7M179.2,31.4v8.7M296.6,255.4v-8.7M296.6,31.4v8.7M414.0,255.4v-8.7M414.0,31.4v8.7M237.9,255.4v-4.5M237.9,31.4v4.5M355.3,255.4v-4.5M355.3,31.4v4.5M472.7,255.4v-4.5M472.7,31.4v4.5M179.2,223.4h8.7M472.7,223.4h-8.7M179.2,159.4h8.7M472.7,159.4h-8.7M179.2,95.4h8.7M472.7,95.4h-8.7M179.2,31.4h8.7M472.7,31.4h-8.7M179.2,255.4h4.5M472.7,255.4h-4.5M179.2,191.4h4.5M472.7,191.4h-4.5M179.2,127.4h4.5M472.7,127.4h-4.5M179.2,63.4h4.5M472.7,63.4h-4.5" stroke="#000" stroke-width="3" stroke-linecap="round" fill="none"/>
<rect x="179.2" y="31.4" width="293.5" height="224.0" fill="none" stroke="#000" stroke-width="3" stroke-linejoin="miter"/>
<g transform="translate(179.8,227.6)" opacity="0.88"><circle r="3.4" fill="#fff" stroke="#000000" stroke-width="0.9"/><path d="M-3.85,0.3A3.85,3.85 0 0 1 3.85,0.3Z" fill="#000000"/></g>
<g transform="translate(181.3,227.8)" opacity="0.88"><circle r="3.4" fill="#fff" stroke="#000000" stroke-width="0.9"/><path d="M-3.85,0.3A3.85,3.85 0 0 1 3.85,0.3Z" fill="#000000"/></g>
<g transform="translate(182.8,227.2)" opacity="0.88"><circle r="3.4" fill="#fff" stroke="#000000" stroke-width="0.9"/><path d="M-3.85,0.3A3.85,3.85 0 0 1 3.85,0.3Z" fill="#000000"/></g>
<g transform="translate(182.0,226.0)" opacity="0.88"><circle r="3.4" fill="#fff" stroke="#000000" stroke-width="0.9"/><path d="M-3.85,0.3A3.85,3.85 0 0 1 3.85,0.3Z" fill="#000000"/></g>
<g transform="translate(185.4,224.5)" opacity="0.88"><circle r="3.4" fill="#fff" stroke="#000000" stroke-width="0.9"/><path d="M-3.85,0.3A3.85,3.85 0 0 1 3.85,0.3Z" fill="#000000"/></g>
<g transform="translate(187.4,221.5)" opacity="0.88"><circle r="3.4" fill="#fff" stroke="#000000" stroke-width="0.9"/><path d="M-3.85,0.3A3.85,3.85 0 0 1 3.85,0.3Z" fill="#000000"/></g>
<g transform="translate(189.2,218.3)" opacity="0.88"><circle r="3.4" fill="#fff" stroke="#000000" stroke-width="0.9"/><path d="M-3.85,0.3A3.85,3.85 0 0 1 3.85,0.3Z" fill="#000000"/></g>
<g transform="translate(190.9,214.9)" opacity="0.88"><circle r="3.4" fill="#fff" stroke="#000000" stroke-width="0.9"/><path d="M-3.85,0.3A3.85,3.85 0 0 1 3.85,0.3Z" fill="#000000"/></g>
<g transform="translate(192.6,211.7)" opacity="0.88"><circle r="3.4" fill="#fff" stroke="#000000" stroke-width="0.9"/><path d="M-3.85,0.3A3.85,3.85 0 0 1 3.85,0.3Z" fill="#000000"/></g>
<g transform="translate(194.5,208.5)" opacity="0.88"><circle r="3.4" fill="#fff" stroke="#000000" stroke-width="0.9"/><path d="M-3.85,0.3A3.85,3.85 0 0 1 3.85,0.3Z" fill="#000000"/></g>
<g transform="translate(196.5,205.4)" opacity="0.88"><circle r="3.4" fill="#fff" stroke="#000000" stroke-width="0.9"/><path d="M-3.85,0.3A3.85,3.85 0 0 1 3.85,0.3Z" fill="#000000"/></g>
<g transform="translate(198.4,202.2)" opacity="0.88"><circle r="3.4" fill="#fff" stroke="#000000" stroke-width="0.9"/><path d="M-3.85,0.3A3.85,3.85 0 0 1 3.85,0.3Z" fill="#000000"/></g>
<g transform="translate(200.4,199.1)" opacity="0.88"><circle r="3.4" fill="#fff" stroke="#000000" stroke-width="0.9"/><path d="M-3.85,0.3A3.85,3.85 0 0 1 3.85,0.3Z" fill="#000000"/></g>
<g transform="translate(206.1,189.9)" opacity="0.88"><circle r="3.4" fill="#fff" stroke="#000000" stroke-width="0.9"/><path d="M-3.85,0.3A3.85,3.85 0 0 1 3.85,0.3Z" fill="#000000"/></g>
<g transform="translate(210.7,180.0)" opacity="0.88"><circle r="3.4" fill="#fff" stroke="#000000" stroke-width="0.9"/><path d="M-3.85,0.3A3.85,3.85 0 0 1 3.85,0.3Z" fill="#000000"/></g>
<g transform="translate(216.8,168.3)" opacity="0.88"><circle r="3.4" fill="#fff" stroke="#000000" stroke-width="0.9"/><path d="M-3.85,0.3A3.85,3.85 0 0 1 3.85,0.3Z" fill="#000000"/></g>
<g transform="translate(224.4,154.7)" opacity="0.88"><circle r="3.4" fill="#fff" stroke="#000000" stroke-width="0.9"/><path d="M-3.85,0.3A3.85,3.85 0 0 1 3.85,0.3Z" fill="#000000"/></g>
<g transform="translate(234.2,135.2)" opacity="0.88"><circle r="3.4" fill="#fff" stroke="#000000" stroke-width="0.9"/><path d="M-3.85,0.3A3.85,3.85 0 0 1 3.85,0.3Z" fill="#000000"/></g>
<g transform="translate(244.9,112.8)" opacity="0.88"><circle r="3.4" fill="#fff" stroke="#000000" stroke-width="0.9"/><path d="M-3.85,0.3A3.85,3.85 0 0 1 3.85,0.3Z" fill="#000000"/></g>
<g transform="translate(250.2,99.9)" opacity="0.88"><circle r="3.4" fill="#fff" stroke="#000000" stroke-width="0.9"/><path d="M-3.85,0.3A3.85,3.85 0 0 1 3.85,0.3Z" fill="#000000"/></g>
<g transform="translate(284.7,54.3)" opacity="0.88"><circle r="3.4" fill="#fff" stroke="#000000" stroke-width="0.9"/><path d="M-3.85,0.3A3.85,3.85 0 0 1 3.85,0.3Z" fill="#000000"/></g>
<g transform="translate(298.0,41.8)" opacity="0.88"><circle r="3.4" fill="#fff" stroke="#000000" stroke-width="0.9"/><path d="M-3.85,0.3A3.85,3.85 0 0 1 3.85,0.3Z" fill="#000000"/></g>
<g transform="translate(311.4,43.4)" opacity="0.88"><circle r="3.4" fill="#fff" stroke="#000000" stroke-width="0.9"/><path d="M-3.85,0.3A3.85,3.85 0 0 1 3.85,0.3Z" fill="#000000"/></g>
<g transform="translate(318.2,49.4)" opacity="0.88"><circle r="3.4" fill="#fff" stroke="#000000" stroke-width="0.9"/><path d="M-3.85,0.3A3.85,3.85 0 0 1 3.85,0.3Z" fill="#000000"/></g>
<g transform="translate(321.1,53.5)" opacity="0.88"><circle r="3.4" fill="#fff" stroke="#000000" stroke-width="0.9"/><path d="M-3.85,0.3A3.85,3.85 0 0 1 3.85,0.3Z" fill="#000000"/></g>
<g transform="translate(325.7,68.3)" opacity="0.88"><circle r="3.4" fill="#fff" stroke="#000000" stroke-width="0.9"/><path d="M-3.85,0.3A3.85,3.85 0 0 1 3.85,0.3Z" fill="#000000"/></g>
<g transform="translate(331.5,83.9)" opacity="0.88"><circle r="3.4" fill="#fff" stroke="#000000" stroke-width="0.9"/><path d="M-3.85,0.3A3.85,3.85 0 0 1 3.85,0.3Z" fill="#000000"/></g>
<g transform="translate(336.0,101.4)" opacity="0.88"><circle r="3.4" fill="#fff" stroke="#000000" stroke-width="0.9"/><path d="M-3.85,0.3A3.85,3.85 0 0 1 3.85,0.3Z" fill="#000000"/></g>
<g transform="translate(345.5,124.0)" opacity="0.88"><circle r="3.4" fill="#fff" stroke="#000000" stroke-width="0.9"/><path d="M-3.85,0.3A3.85,3.85 0 0 1 3.85,0.3Z" fill="#000000"/></g>
<g transform="translate(380.4,119.1)" opacity="0.88"><circle r="3.4" fill="#fff" stroke="#000000" stroke-width="0.9"/><path d="M-3.85,0.3A3.85,3.85 0 0 1 3.85,0.3Z" fill="#000000"/></g>
<g transform="translate(424.1,111.8)" opacity="0.88"><circle r="3.4" fill="#fff" stroke="#000000" stroke-width="0.9"/><path d="M-3.85,0.3A3.85,3.85 0 0 1 3.85,0.3Z" fill="#000000"/></g>
<g transform="translate(202.3,186.9)" opacity="0.88"><circle r="3.4" fill="#fff" stroke="#ff0000" stroke-width="0.9"/><path d="M-3.85,0.3A3.85,3.85 0 0 1 3.85,0.3Z" fill="#ff0000"/></g>
<g transform="translate(209.9,172.4)" opacity="0.88"><circle r="3.4" fill="#fff" stroke="#ff0000" stroke-width="0.9"/><path d="M-3.85,0.3A3.85,3.85 0 0 1 3.85,0.3Z" fill="#ff0000"/></g>
<g transform="translate(216.8,159.2)" opacity="0.88"><circle r="3.4" fill="#fff" stroke="#ff0000" stroke-width="0.9"/><path d="M-3.85,0.3A3.85,3.85 0 0 1 3.85,0.3Z" fill="#ff0000"/></g>
<g transform="translate(224.4,146.2)" opacity="0.88"><circle r="3.4" fill="#fff" stroke="#ff0000" stroke-width="0.9"/><path d="M-3.85,0.3A3.85,3.85 0 0 1 3.85,0.3Z" fill="#ff0000"/></g>
<g transform="translate(257.8,88.5)" opacity="0.88"><circle r="3.4" fill="#fff" stroke="#ff0000" stroke-width="0.9"/><path d="M-3.85,0.3A3.85,3.85 0 0 1 3.85,0.3Z" fill="#ff0000"/></g>
<g transform="translate(295.8,55.8)" opacity="0.88"><circle r="3.4" fill="#fff" stroke="#ff0000" stroke-width="0.9"/><path d="M-3.85,0.3A3.85,3.85 0 0 1 3.85,0.3Z" fill="#ff0000"/></g>
<g transform="translate(299.5,56.8)" opacity="0.88"><circle r="3.4" fill="#fff" stroke="#ff0000" stroke-width="0.9"/><path d="M-3.85,0.3A3.85,3.85 0 0 1 3.85,0.3Z" fill="#ff0000"/></g>
<g transform="translate(314.0,56.6)" opacity="0.88"><circle r="3.4" fill="#fff" stroke="#ff0000" stroke-width="0.9"/><path d="M-3.85,0.3A3.85,3.85 0 0 1 3.85,0.3Z" fill="#ff0000"/></g>
<g transform="translate(324.6,83.5)" opacity="0.88"><circle r="3.4" fill="#fff" stroke="#ff0000" stroke-width="0.9"/><path d="M-3.85,0.3A3.85,3.85 0 0 1 3.85,0.3Z" fill="#ff0000"/></g>
<g transform="translate(326.6,88.5)" opacity="0.88"><circle r="3.4" fill="#fff" stroke="#ff0000" stroke-width="0.9"/><path d="M-3.85,0.3A3.85,3.85 0 0 1 3.85,0.3Z" fill="#ff0000"/></g>
<g transform="translate(339.0,127.5)" opacity="0.88"><circle r="3.4" fill="#fff" stroke="#ff0000" stroke-width="0.9"/><path d="M-3.85,0.3A3.85,3.85 0 0 1 3.85,0.3Z" fill="#ff0000"/></g>
<g transform="translate(414.0,113.5)" opacity="0.88"><circle r="3.4" fill="#fff" stroke="#ff0000" stroke-width="0.9"/><path d="M-3.85,0.3A3.85,3.85 0 0 1 3.85,0.3Z" fill="#ff0000"/></g>
<g transform="translate(202.3,180.0)" opacity="0.8"><circle r="3.4" fill="#fff" stroke="#3333ff" stroke-width="0.9"/><path d="M-3.85,0.3A3.85,3.85 0 0 1 3.85,0.3Z" fill="#3333ff"/></g>
<g transform="translate(210.0,170.5)" opacity="0.8"><circle r="3.4" fill="#fff" stroke="#3333ff" stroke-width="0.9"/><path d="M-3.85,0.3A3.85,3.85 0 0 1 3.85,0.3Z" fill="#3333ff"/></g>
<g transform="translate(217.0,157.0)" opacity="0.8"><circle r="3.4" fill="#fff" stroke="#3333ff" stroke-width="0.9"/><path d="M-3.85,0.3A3.85,3.85 0 0 1 3.85,0.3Z" fill="#3333ff"/></g>
<g transform="translate(224.6,137.9)" opacity="0.8"><circle r="3.4" fill="#fff" stroke="#3333ff" stroke-width="0.9"/><path d="M-3.85,0.3A3.85,3.85 0 0 1 3.85,0.3Z" fill="#3333ff"/></g>
<g transform="translate(233.9,116.6)" opacity="0.8"><circle r="3.4" fill="#fff" stroke="#3333ff" stroke-width="0.9"/><path d="M-3.85,0.3A3.85,3.85 0 0 1 3.85,0.3Z" fill="#3333ff"/></g>
<g transform="translate(258.2,83.9)" opacity="0.8"><circle r="3.4" fill="#fff" stroke="#3333ff" stroke-width="0.9"/><path d="M-3.85,0.3A3.85,3.85 0 0 1 3.85,0.3Z" fill="#3333ff"/></g>
<g transform="translate(261.3,80.1)" opacity="0.8"><circle r="3.4" fill="#fff" stroke="#3333ff" stroke-width="0.9"/><path d="M-3.85,0.3A3.85,3.85 0 0 1 3.85,0.3Z" fill="#3333ff"/></g>
<g transform="translate(276.8,67.2)" opacity="0.8"><circle r="3.4" fill="#fff" stroke="#3333ff" stroke-width="0.9"/><path d="M-3.85,0.3A3.85,3.85 0 0 1 3.85,0.3Z" fill="#3333ff"/></g>
<g transform="translate(279.5,65.5)" opacity="0.8"><circle r="3.4" fill="#fff" stroke="#3333ff" stroke-width="0.9"/><path d="M-3.85,0.3A3.85,3.85 0 0 1 3.85,0.3Z" fill="#3333ff"/></g>
<g transform="translate(298.8,69.2)" opacity="0.8"><circle r="3.4" fill="#fff" stroke="#3333ff" stroke-width="0.9"/><path d="M-3.85,0.3A3.85,3.85 0 0 1 3.85,0.3Z" fill="#3333ff"/></g>
<g transform="translate(300.8,71.3)" opacity="0.8"><circle r="3.4" fill="#fff" stroke="#3333ff" stroke-width="0.9"/><path d="M-3.85,0.3A3.85,3.85 0 0 1 3.85,0.3Z" fill="#3333ff"/></g>
<g transform="translate(316.0,90.0)" opacity="0.8"><circle r="3.4" fill="#fff" stroke="#3333ff" stroke-width="0.9"/><path d="M-3.85,0.3A3.85,3.85 0 0 1 3.85,0.3Z" fill="#3333ff"/></g>
<g transform="translate(317.5,93.8)" opacity="0.8"><circle r="3.4" fill="#fff" stroke="#3333ff" stroke-width="0.9"/><path d="M-3.85,0.3A3.85,3.85 0 0 1 3.85,0.3Z" fill="#3333ff"/></g>
<g transform="translate(331.9,124.9)" opacity="0.8"><circle r="3.4" fill="#fff" stroke="#3333ff" stroke-width="0.9"/><path d="M-3.85,0.3A3.85,3.85 0 0 1 3.85,0.3Z" fill="#3333ff"/></g>
<g transform="translate(349.0,124.5)" opacity="0.8"><circle r="3.4" fill="#fff" stroke="#3333ff" stroke-width="0.9"/><path d="M-3.85,0.3A3.85,3.85 0 0 1 3.85,0.3Z" fill="#3333ff"/></g>
<g transform="translate(442.0,108.5)" opacity="0.8"><circle r="3.4" fill="#fff" stroke="#3333ff" stroke-width="0.9"/><path d="M-3.85,0.3A3.85,3.85 0 0 1 3.85,0.3Z" fill="#3333ff"/></g>
<g transform="translate(203.1,173.2)" opacity="0.88"><circle r="3.4" fill="#fff" stroke="#ff00ff" stroke-width="0.9"/><path d="M0,-3.85A3.85,3.85 0 0 1 0,3.85Z" fill="#ff00ff"/></g>
<g transform="translate(211.4,165.2)" opacity="0.88"><circle r="3.4" fill="#fff" stroke="#ff00ff" stroke-width="0.9"/><path d="M0,-3.85A3.85,3.85 0 0 1 0,3.85Z" fill="#ff00ff"/></g>
<g transform="translate(218.4,148.5)" opacity="0.88"><circle r="3.4" fill="#fff" stroke="#ff00ff" stroke-width="0.9"/><path d="M0,-3.85A3.85,3.85 0 0 1 0,3.85Z" fill="#ff00ff"/></g>
<g transform="translate(244.9,99.7)" opacity="0.88"><circle r="3.4" fill="#fff" stroke="#ff00ff" stroke-width="0.9"/><path d="M0,-3.85A3.85,3.85 0 0 1 0,3.85Z" fill="#ff00ff"/></g>
<g transform="translate(219.1,145.4)" opacity="0.88"><circle r="3.4" fill="#fff" stroke="#ff00ff" stroke-width="0.9"/><path d="M0,-3.85A3.85,3.85 0 0 1 0,3.85Z" fill="#ff00ff"/></g>
<g transform="translate(245.6,100.6)" opacity="0.88"><circle r="3.4" fill="#fff" stroke="#ff00ff" stroke-width="0.9"/><path d="M0,-3.85A3.85,3.85 0 0 1 0,3.85Z" fill="#ff00ff"/></g>
<g transform="translate(246.5,103.5)" opacity="0.88"><circle r="3.4" fill="#fff" stroke="#ff00ff" stroke-width="0.9"/><path d="M0,-3.85A3.85,3.85 0 0 1 0,3.85Z" fill="#ff00ff"/></g>
<g transform="translate(260.1,88.5)" opacity="0.88"><circle r="3.4" fill="#fff" stroke="#ff00ff" stroke-width="0.9"/><path d="M0,-3.85A3.85,3.85 0 0 1 0,3.85Z" fill="#ff00ff"/></g>
<g transform="translate(262.5,89.5)" opacity="0.88"><circle r="3.4" fill="#fff" stroke="#ff00ff" stroke-width="0.9"/><path d="M0,-3.85A3.85,3.85 0 0 1 0,3.85Z" fill="#ff00ff"/></g>
<g transform="translate(275.3,74.1)" opacity="0.88"><circle r="3.4" fill="#fff" stroke="#ff00ff" stroke-width="0.9"/><path d="M0,-3.85A3.85,3.85 0 0 1 0,3.85Z" fill="#ff00ff"/></g>
<g transform="translate(277.8,72.5)" opacity="0.88"><circle r="3.4" fill="#fff" stroke="#ff00ff" stroke-width="0.9"/><path d="M0,-3.85A3.85,3.85 0 0 1 0,3.85Z" fill="#ff00ff"/></g>
<g transform="translate(295.0,96.5)" opacity="0.88"><circle r="3.4" fill="#fff" stroke="#ff00ff" stroke-width="0.9"/><path d="M0,-3.85A3.85,3.85 0 0 1 0,3.85Z" fill="#ff00ff"/></g>
<g transform="translate(296.5,99.9)" opacity="0.88"><circle r="3.4" fill="#fff" stroke="#ff00ff" stroke-width="0.9"/><path d="M0,-3.85A3.85,3.85 0 0 1 0,3.85Z" fill="#ff00ff"/></g>
<g transform="translate(306.4,123.4)" opacity="0.88"><circle r="3.4" fill="#fff" stroke="#ff00ff" stroke-width="0.9"/><path d="M0,-3.85A3.85,3.85 0 0 1 0,3.85Z" fill="#ff00ff"/></g>
<g transform="translate(311.7,131.8)" opacity="0.88"><circle r="3.4" fill="#fff" stroke="#ff00ff" stroke-width="0.9"/><path d="M0,-3.85A3.85,3.85 0 0 1 0,3.85Z" fill="#ff00ff"/></g>
<g transform="translate(362.0,121.5)" opacity="0.88"><circle r="3.4" fill="#fff" stroke="#ff00ff" stroke-width="0.9"/><path d="M0,-3.85A3.85,3.85 0 0 1 0,3.85Z" fill="#ff00ff"/></g>
<g transform="translate(413.5,113.0)" opacity="0.88"><circle r="3.4" fill="#fff" stroke="#ff00ff" stroke-width="0.9"/><path d="M0,-3.85A3.85,3.85 0 0 1 0,3.85Z" fill="#ff00ff"/></g>
<g transform="translate(469.7,105.6)" opacity="0.88"><circle r="3.4" fill="#fff" stroke="#ff00ff" stroke-width="0.9"/><path d="M0,-3.85A3.85,3.85 0 0 1 0,3.85Z" fill="#ff00ff"/></g>
<g transform="translate(202.3,167.1)" opacity="0.88"><circle r="3.4" fill="#fff" stroke="#800000" stroke-width="0.9"/><path d="M-3.85,0.3A3.85,3.85 0 0 1 3.85,0.3Z" fill="#800000"/></g>
<g transform="translate(210.0,155.0)" opacity="0.88"><circle r="3.4" fill="#fff" stroke="#800000" stroke-width="0.9"/><path d="M-3.85,0.3A3.85,3.85 0 0 1 3.85,0.3Z" fill="#800000"/></g>
<g transform="translate(217.0,147.0)" opacity="0.88"><circle r="3.4" fill="#fff" stroke="#800000" stroke-width="0.9"/><path d="M-3.85,0.3A3.85,3.85 0 0 1 3.85,0.3Z" fill="#800000"/></g>
<g transform="translate(224.0,131.7)" opacity="0.88"><circle r="3.4" fill="#fff" stroke="#800000" stroke-width="0.9"/><path d="M-3.85,0.3A3.85,3.85 0 0 1 3.85,0.3Z" fill="#800000"/></g>
<g transform="translate(224.4,132.2)" opacity="0.88"><circle r="3.4" fill="#fff" stroke="#800000" stroke-width="0.9"/><path d="M-3.85,0.3A3.85,3.85 0 0 1 3.85,0.3Z" fill="#800000"/></g>
<g transform="translate(233.5,120.5)" opacity="0.88"><circle r="3.4" fill="#fff" stroke="#800000" stroke-width="0.9"/><path d="M-3.85,0.3A3.85,3.85 0 0 1 3.85,0.3Z" fill="#800000"/></g>
<g transform="translate(245.6,105.0)" opacity="0.88"><circle r="3.4" fill="#fff" stroke="#800000" stroke-width="0.9"/><path d="M-3.85,0.3A3.85,3.85 0 0 1 3.85,0.3Z" fill="#800000"/></g>
<g transform="translate(245.6,108.5)" opacity="0.88"><circle r="3.4" fill="#fff" stroke="#800000" stroke-width="0.9"/><path d="M-3.85,0.3A3.85,3.85 0 0 1 3.85,0.3Z" fill="#800000"/></g>
<g transform="translate(260.1,95.3)" opacity="0.88"><circle r="3.4" fill="#fff" stroke="#800000" stroke-width="0.9"/><path d="M-3.85,0.3A3.85,3.85 0 0 1 3.85,0.3Z" fill="#800000"/></g>
<g transform="translate(263.5,95.3)" opacity="0.88"><circle r="3.4" fill="#fff" stroke="#800000" stroke-width="0.9"/><path d="M-3.85,0.3A3.85,3.85 0 0 1 3.85,0.3Z" fill="#800000"/></g>
<g transform="translate(274.5,99.6)" opacity="0.88"><circle r="3.4" fill="#fff" stroke="#800000" stroke-width="0.9"/><path d="M-3.85,0.3A3.85,3.85 0 0 1 3.85,0.3Z" fill="#800000"/></g>
<g transform="translate(278.3,103.4)" opacity="0.88"><circle r="3.4" fill="#fff" stroke="#800000" stroke-width="0.9"/><path d="M-3.85,0.3A3.85,3.85 0 0 1 3.85,0.3Z" fill="#800000"/></g>
<g transform="translate(287.7,123.0)" opacity="0.88"><circle r="3.4" fill="#fff" stroke="#800000" stroke-width="0.9"/><path d="M-3.85,0.3A3.85,3.85 0 0 1 3.85,0.3Z" fill="#800000"/></g>
<g transform="translate(295.0,136.3)" opacity="0.88"><circle r="3.4" fill="#fff" stroke="#800000" stroke-width="0.9"/><path d="M-3.85,0.3A3.85,3.85 0 0 1 3.85,0.3Z" fill="#800000"/></g>
<g transform="translate(317.0,131.5)" opacity="0.88"><circle r="3.4" fill="#fff" stroke="#800000" stroke-width="0.9"/><path d="M-3.85,0.3A3.85,3.85 0 0 1 3.85,0.3Z" fill="#800000"/></g>
<g transform="translate(339.0,127.0)" opacity="0.88"><circle r="3.4" fill="#fff" stroke="#800000" stroke-width="0.9"/><path d="M-3.85,0.3A3.85,3.85 0 0 1 3.85,0.3Z" fill="#800000"/></g>
<g transform="translate(386.4,118.0)" opacity="0.88"><circle r="3.4" fill="#fff" stroke="#800000" stroke-width="0.9"/><path d="M-3.85,0.3A3.85,3.85 0 0 1 3.85,0.3Z" fill="#800000"/></g>
<g transform="translate(200.0,163.0)" opacity="0.88"><circle r="3.4" fill="#fff" stroke="#ff8000" stroke-width="0.9"/><path d="M-3.85,0.3A3.85,3.85 0 0 1 3.85,0.3Z" fill="#ff8000"/></g>
<g transform="translate(204.6,158.0)" opacity="0.88"><circle r="3.4" fill="#fff" stroke="#ff8000" stroke-width="0.9"/><path d="M-3.85,0.3A3.85,3.85 0 0 1 3.85,0.3Z" fill="#ff8000"/></g>
<g transform="translate(207.0,152.0)" opacity="0.88"><circle r="3.4" fill="#fff" stroke="#ff8000" stroke-width="0.9"/><path d="M-3.85,0.3A3.85,3.85 0 0 1 3.85,0.3Z" fill="#ff8000"/></g>
<g transform="translate(213.5,145.0)" opacity="0.88"><circle r="3.4" fill="#fff" stroke="#ff8000" stroke-width="0.9"/><path d="M-3.85,0.3A3.85,3.85 0 0 1 3.85,0.3Z" fill="#ff8000"/></g>
<g transform="translate(210.7,148.9)" opacity="0.88"><circle r="3.4" fill="#fff" stroke="#ff8000" stroke-width="0.9"/><path d="M-3.85,0.3A3.85,3.85 0 0 1 3.85,0.3Z" fill="#ff8000"/></g>
<g transform="translate(216.8,141.3)" opacity="0.88"><circle r="3.4" fill="#fff" stroke="#ff8000" stroke-width="0.9"/><path d="M-3.85,0.3A3.85,3.85 0 0 1 3.85,0.3Z" fill="#ff8000"/></g>
<g transform="translate(220.0,136.0)" opacity="0.88"><circle r="3.4" fill="#fff" stroke="#ff8000" stroke-width="0.9"/><path d="M-3.85,0.3A3.85,3.85 0 0 1 3.85,0.3Z" fill="#ff8000"/></g>
<g transform="translate(233.0,128.6)" opacity="0.88"><circle r="3.4" fill="#fff" stroke="#ff8000" stroke-width="0.9"/><path d="M-3.85,0.3A3.85,3.85 0 0 1 3.85,0.3Z" fill="#ff8000"/></g>
<g transform="translate(245.2,125.3)" opacity="0.88"><circle r="3.4" fill="#fff" stroke="#ff8000" stroke-width="0.9"/><path d="M-3.85,0.3A3.85,3.85 0 0 1 3.85,0.3Z" fill="#ff8000"/></g>
<g transform="translate(257.8,133.7)" opacity="0.88"><circle r="3.4" fill="#fff" stroke="#ff8000" stroke-width="0.9"/><path d="M-3.85,0.3A3.85,3.85 0 0 1 3.85,0.3Z" fill="#ff8000"/></g>
<g transform="translate(260.8,137.5)" opacity="0.88"><circle r="3.4" fill="#fff" stroke="#ff8000" stroke-width="0.9"/><path d="M-3.85,0.3A3.85,3.85 0 0 1 3.85,0.3Z" fill="#ff8000"/></g>
<g transform="translate(274.5,143.3)" opacity="0.88"><circle r="3.4" fill="#fff" stroke="#ff8000" stroke-width="0.9"/><path d="M-3.85,0.3A3.85,3.85 0 0 1 3.85,0.3Z" fill="#ff8000"/></g>
<g transform="translate(278.3,140.1)" opacity="0.88"><circle r="3.4" fill="#fff" stroke="#ff8000" stroke-width="0.9"/><path d="M-3.85,0.3A3.85,3.85 0 0 1 3.85,0.3Z" fill="#ff8000"/></g>
<g transform="translate(294.2,139.7)" opacity="0.88"><circle r="3.4" fill="#fff" stroke="#ff8000" stroke-width="0.9"/><path d="M-3.85,0.3A3.85,3.85 0 0 1 3.85,0.3Z" fill="#ff8000"/></g>
<g transform="translate(317.0,135.5)" opacity="0.88"><circle r="3.4" fill="#fff" stroke="#ff8000" stroke-width="0.9"/><path d="M-3.85,0.3A3.85,3.85 0 0 1 3.85,0.3Z" fill="#ff8000"/></g>
<g transform="translate(338.8,128.2)" opacity="0.88"><circle r="3.4" fill="#fff" stroke="#ff8000" stroke-width="0.9"/><path d="M-3.85,0.3A3.85,3.85 0 0 1 3.85,0.3Z" fill="#ff8000"/></g>
<g transform="translate(348.0,125.5)" opacity="0.88"><circle r="3.4" fill="#fff" stroke="#ff8000" stroke-width="0.9"/><path d="M-3.85,0.3A3.85,3.85 0 0 1 3.85,0.3Z" fill="#ff8000"/></g>
<g transform="translate(361.9,123.0)" opacity="0.88"><circle r="3.4" fill="#fff" stroke="#ff8000" stroke-width="0.9"/><path d="M-3.85,0.3A3.85,3.85 0 0 1 3.85,0.3Z" fill="#ff8000"/></g>
<g transform="translate(386.4,118.5)" opacity="0.88"><circle r="3.4" fill="#fff" stroke="#ff8000" stroke-width="0.9"/><path d="M-3.85,0.3A3.85,3.85 0 0 1 3.85,0.3Z" fill="#ff8000"/></g>
<g transform="translate(413.5,114.5)" opacity="0.88"><circle r="3.4" fill="#fff" stroke="#ff8000" stroke-width="0.9"/><path d="M-3.85,0.3A3.85,3.85 0 0 1 3.85,0.3Z" fill="#ff8000"/></g>
<g transform="translate(442.0,109.0)" opacity="0.88"><circle r="3.4" fill="#fff" stroke="#ff8000" stroke-width="0.9"/><path d="M-3.85,0.3A3.85,3.85 0 0 1 3.85,0.3Z" fill="#ff8000"/></g>
<g transform="translate(469.7,105.6)" opacity="0.88"><circle r="3.4" fill="#fff" stroke="#ff8000" stroke-width="0.9"/><path d="M-3.85,0.3A3.85,3.85 0 0 1 3.85,0.3Z" fill="#ff8000"/></g>
<path d="M180.7,157.7L471.2,107.1" stroke="#808000" stroke-width="3.2"/>
<text x="179.2" y="286.7" font-size="25.5" text-anchor="middle" >0</text>
<text x="296.6" y="286.7" font-size="25.5" text-anchor="middle" >20</text>
<text x="414.0" y="286.7" font-size="25.5" text-anchor="middle" >40</text>
<text x="168.5" y="232.3" font-size="25" text-anchor="end" >0.1</text>
<text x="168.5" y="168.3" font-size="25" text-anchor="end" >0.2</text>
<text x="168.5" y="104.4" font-size="25" text-anchor="end" >0.3</text>
<text x="168.5" y="40.4" font-size="25" text-anchor="end" >0.4</text>
<path d="M856.2,43.4C856.9,43.4 858.7,43.2 860.3,43.3C862.0,43.3 864.1,43.5 866.0,43.7C867.8,43.9 869.7,44.3 871.6,44.7C873.5,45.2 875.4,45.7 877.2,46.3C879.1,46.9 881.0,47.6 882.9,48.4C884.7,49.2 886.6,50.1 888.5,51.0C890.4,52.0 892.2,53.0 894.1,54.2C896.0,55.3 897.9,56.5 899.8,57.7C901.6,59.0 903.5,60.3 905.4,61.8C907.3,63.2 909.1,64.6 911.0,66.2C912.9,67.7 914.8,69.3 916.7,71.0C918.5,72.7 920.4,74.4 922.3,76.2C924.2,78.0 926.0,79.8 927.9,81.7C929.8,83.6 931.7,85.6 933.6,87.6C935.4,89.6 937.3,91.6 939.2,93.7C941.1,95.8 942.9,98.0 944.8,100.1C946.7,102.3 948.6,104.6 950.4,106.8C952.3,109.1 954.2,111.4 956.1,113.7C958.0,116.0 959.8,118.4 961.7,120.8C963.6,123.2 965.5,125.6 967.3,128.0C969.2,130.5 971.1,133.0 973.0,135.4C974.9,137.9 976.7,140.5 978.6,143.0C980.5,145.5 982.4,148.1 984.2,150.6C986.1,153.2 988.0,155.8 989.9,158.3C991.7,160.9 993.6,163.5 995.5,166.1C997.4,168.7 999.3,171.3 1001.1,173.9C1003.0,176.5 1004.9,179.1 1006.8,181.7C1008.6,184.3 1010.5,186.9 1012.4,189.5C1014.3,192.1 1016.2,194.7 1018.0,197.2C1019.9,199.8 1021.8,202.4 1023.7,204.9C1025.5,207.4 1027.4,210.0 1029.3,212.5C1031.2,215.0 1033.1,217.5 1034.9,219.9C1036.8,222.4 1038.7,224.9 1040.6,227.3C1042.4,229.7 1044.3,232.1 1046.2,234.4C1048.1,236.8 1049.9,239.1 1051.8,241.4C1053.7,243.7 1055.6,246.0 1057.5,248.2C1059.3,250.4 1061.2,252.6 1063.1,254.7C1065.0,256.8 1066.8,258.9 1068.7,261.0C1070.6,263.0 1073.4,266.0 1074.4,267.0" fill="none" stroke="#800000" stroke-width="3"/>
<path d="M856.2,124.3C856.9,124.3 858.7,124.3 860.4,124.4C862.0,124.4 864.2,124.5 866.1,124.6C867.9,124.7 869.8,124.8 871.7,125.0C873.6,125.1 875.5,125.3 877.4,125.5C879.3,125.7 881.2,126.0 883.1,126.3C885.0,126.5 886.9,126.8 888.8,127.2C890.7,127.5 892.6,127.9 894.4,128.3C896.3,128.7 898.2,129.1 900.1,129.5C902.0,130.0 903.9,130.5 905.8,131.0C907.7,131.5 909.6,132.0 911.5,132.6C913.4,133.2 915.3,133.8 917.2,134.4C919.1,135.1 920.9,135.7 922.8,136.4C924.7,137.1 926.6,137.8 928.5,138.6C930.4,139.4 932.3,140.2 934.2,141.0C936.1,141.8 938.0,142.7 939.9,143.6C941.8,144.4 943.7,145.4 945.5,146.3C947.4,147.3 949.3,148.3 951.2,149.3C953.1,150.3 955.0,151.3 956.9,152.4C958.8,153.5 960.7,154.6 962.6,155.8C964.5,156.9 966.4,158.1 968.3,159.3C970.2,160.6 972.0,161.8 973.9,163.1C975.8,164.4 977.7,165.7 979.6,167.1C981.5,168.4 983.4,169.8 985.3,171.2C987.2,172.7 989.1,174.1 991.0,175.6C992.9,177.1 994.8,178.7 996.7,180.2C998.5,181.8 1000.4,183.4 1002.3,185.0C1004.2,186.7 1006.1,188.3 1008.0,190.0C1009.9,191.8 1011.8,193.5 1013.7,195.3C1015.6,197.1 1017.5,198.9 1019.4,200.7C1021.3,202.6 1023.1,204.5 1025.0,206.4C1026.9,208.3 1028.8,210.3 1030.7,212.3C1032.6,214.3 1034.5,216.4 1036.4,218.4C1038.3,220.5 1040.2,222.6 1042.1,224.8C1044.0,226.9 1045.9,229.1 1047.8,231.4C1049.6,233.6 1051.5,235.9 1053.4,238.2C1055.3,240.5 1057.2,242.8 1059.1,245.2C1061.0,247.6 1062.9,250.0 1064.8,252.5C1066.7,254.9 1068.6,257.4 1070.5,260.0C1072.4,262.5 1075.2,266.4 1076.1,267.7" fill="none" stroke="#ff8000" stroke-width="3.3"/>
<path d="M856.2,200.6H1132.8" stroke="#ff0000" stroke-width="2" stroke-dasharray="6.3 5.5"/>
<path d="M1001.8,203.7H1027.6M1001.8,200.7v6M1027.6,200.7v6M1028.3,217.9H1046.8M1028.3,214.9v6M1046.8,214.9v6M1048.0,232.6H1060.8M1048.0,229.6v6M1060.8,229.6v6M1061.0,247.3H1073.6M1061.0,244.3v6M1073.6,244.3v6" stroke="#ff8000" stroke-width="1.1" fill="none"/>
<g transform="translate(1013.7,203.7)"><circle r="4.3" fill="#fff" stroke="#ff8000" stroke-width="1.0"/><path d="M-4.80,0.3A4.80,4.80 0 0 1 4.80,0.3Z" fill="#ff8000"/></g>
<g transform="translate(1038.0,217.9)"><circle r="4.3" fill="#fff" stroke="#ff8000" stroke-width="1.0"/><path d="M-4.80,0.3A4.80,4.80 0 0 1 4.80,0.3Z" fill="#ff8000"/></g>
<g transform="translate(1054.0,232.6)"><circle r="4.3" fill="#fff" stroke="#ff8000" stroke-width="1.0"/><path d="M-4.80,0.3A4.80,4.80 0 0 1 4.80,0.3Z" fill="#ff8000"/></g>
<g transform="translate(1066.6,247.3)"><circle r="4.3" fill="#fff" stroke="#ff8000" stroke-width="1.0"/><path d="M-4.80,0.3A4.80,4.80 0 0 1 4.80,0.3Z" fill="#ff8000"/></g>
<g transform="translate(1075.0,261.5)"><circle r="4.3" fill="#fff" stroke="#ff8000" stroke-width="1.0"/><path d="M-4.80,0.3A4.80,4.80 0 0 1 4.80,0.3Z" fill="#ff8000"/></g>
<g transform="translate(1078.2,269.1)"><circle r="4.3" fill="#fff" stroke="#ff8000" stroke-width="1.0"/><path d="M-4.80,0.3A4.80,4.80 0 0 1 4.80,0.3Z" fill="#ff8000"/></g>
<path d="M854.7,305.2v-7.0M854.7,16.0v7.0M966.5,305.2v-7.0M966.5,16.0v7.0M1078.4,305.2v-7.0M1078.4,16.0v7.0M910.6,305.2v-3.2M910.6,16.0v3.2M1022.5,305.2v-3.2M1022.5,16.0v3.2M1134.3,305.2v-3.2M1134.3,16.0v3.2M854.7,269.1h7.0M1134.3,269.1h-7.0M854.7,196.8h7.0M1134.3,196.8h-7.0M854.7,124.4h7.0M1134.3,124.4h-7.0M854.7,52.2h7.0M1134.3,52.2h-7.0M854.7,305.2h3.2M1134.3,305.2h-3.2M854.7,232.9h3.2M1134.3,232.9h-3.2M854.7,160.6h3.2M1134.3,160.6h-3.2M854.7,88.3h3.2M1134.3,88.3h-3.2M854.7,16.0h3.2M1134.3,16.0h-3.2" stroke="#000" stroke-width="3" stroke-linecap="round" fill="none"/>
<rect x="854.7" y="16.0" width="279.6" height="289.2" fill="none" stroke="#000" stroke-width="3" stroke-linejoin="miter"/>
<text x="854.7" y="334.3" font-size="25.5" text-anchor="middle" >0.0</text>
<text x="966.5" y="334.3" font-size="25.5" text-anchor="middle" >0.5</text>
<text x="1078.4" y="334.3" font-size="25.5" text-anchor="middle" >1.0</text>
<text x="847.3" y="277.2" font-size="26.5" text-anchor="end" >0</text>
<text x="847.3" y="204.9" font-size="26.5" text-anchor="end" >10</text>
<text x="847.3" y="132.6" font-size="26.5" text-anchor="end" >20</text>
<text x="847.3" y="60.3" font-size="26.5" text-anchor="end" >30</text>
<path d="M1310.4,256.4C1314.6,256.4 1328.9,256.5 1335.6,256.4C1342.3,256.3 1346.2,256.4 1350.8,255.8C1355.4,255.2 1358.6,254.1 1363.0,252.8C1367.4,251.5 1372.7,250.7 1377.2,248.2C1381.8,245.7 1385.6,242.4 1390.3,237.6C1395.0,232.8 1400.2,226.2 1405.5,219.3C1410.8,212.5 1416.1,205.1 1422.2,196.5C1428.3,187.9 1434.5,178.3 1442.0,167.7C1449.5,157.1 1459.2,143.9 1466.9,132.7C1474.6,121.4 1480.6,111.3 1488.0,100.2C1495.4,89.1 1507.4,71.5 1511.3,65.8" fill="none" stroke="#8000ff" stroke-width="2.7"/>
<g transform="translate(1310.4,256.4)"><circle r="6.85" fill="#8000ff"/><circle r="6.85" fill="url(#gsv)"/></g>
<g transform="translate(1332.6,251.9)"><circle r="6.85" fill="#8000ff"/><circle r="6.85" fill="url(#gsv)"/></g>
<g transform="translate(1377.2,249.7)"><circle r="6.85" fill="#8000ff"/><circle r="6.85" fill="url(#gsv)"/></g>
<g transform="translate(1422.2,192.9)"><circle r="6.85" fill="#8000ff"/><circle r="6.85" fill="url(#gsv)"/></g>
<g transform="translate(1466.9,134.2)"><circle r="6.85" fill="#8000ff"/><circle r="6.85" fill="url(#gsv)"/></g>
<g transform="translate(1512.0,64.3)"><circle r="6.85" fill="#8000ff"/><circle r="6.85" fill="url(#gsv)"/></g>
<path d="M1310.5,305.2v-9.5M1310.5,16.0v9.5M1422.2,305.2v-9.5M1422.2,16.0v9.5M1533.8,305.2v-9.5M1533.8,16.0v9.5M1254.7,305.2v-5.0M1254.7,16.0v5.0M1366.3,305.2v-5.0M1366.3,16.0v5.0M1478.0,305.2v-5.0M1478.0,16.0v5.0M1254.7,257.0h9.5M1533.8,257.0h-9.5M1254.7,160.6h9.5M1533.8,160.6h-9.5M1254.7,64.2h9.5M1533.8,64.2h-9.5M1254.7,305.2h5.0M1533.8,305.2h-5.0M1254.7,208.8h5.0M1533.8,208.8h-5.0M1254.7,112.4h5.0M1533.8,112.4h-5.0M1254.7,16.0h5.0M1533.8,16.0h-5.0" stroke="#000" stroke-width="3" stroke-linecap="round" fill="none"/>
<rect x="1254.7" y="16.0" width="279.1" height="289.2" fill="none" stroke="#000" stroke-width="3" stroke-linejoin="miter"/>
<text x="1310.5" y="337.9" font-size="28.5" text-anchor="middle" >0</text>
<text x="1422.2" y="337.9" font-size="28.5" text-anchor="middle" >5</text>
<text x="1533.8" y="337.9" font-size="28.5" text-anchor="middle" >10</text>
<text x="1245.0" y="265.4" font-size="29" text-anchor="end" >1.0</text>
<text x="1245.0" y="169.0" font-size="29" text-anchor="end" >1.5</text>
<text x="1245.0" y="72.6" font-size="29" text-anchor="end" >2.0</text>
<path d="M879.0,609.5C882.5,609.7 893.2,610.4 900.0,610.5C906.8,610.6 914.2,610.3 920.0,610.0C925.8,609.7 930.0,609.2 935.0,608.5C940.0,607.8 945.0,607.3 950.0,606.0C955.0,604.7 960.3,602.8 965.0,600.5C969.7,598.2 973.5,595.6 978.0,592.0C982.5,588.4 987.5,583.8 992.0,579.0C996.5,574.2 1000.3,569.5 1005.0,563.0C1009.7,556.5 1015.0,548.8 1020.0,540.0C1025.0,531.2 1030.8,520.0 1035.0,510.0C1039.2,500.0 1042.2,491.7 1045.0,480.0C1047.8,468.3 1050.5,449.3 1052.0,440.0C1053.5,430.7 1053.7,426.7 1054.0,424.0" fill="none" stroke="#808000" stroke-width="3"/>
<path d="M1030.0,525.0C1031.3,521.7 1035.7,512.2 1038.0,505.0C1040.3,497.8 1042.3,489.5 1044.0,482.0C1045.7,474.5 1046.8,467.0 1048.0,460.0C1049.2,453.0 1050.1,446.0 1051.0,440.0C1051.9,434.0 1053.1,426.7 1053.5,424.0" fill="none" stroke="#808000" stroke-width="3"/>
<g transform="translate(878.8,608.4)"><circle r="6.85" fill="#808000"/><circle r="6.85" fill="url(#gso)"/></g>
<g transform="translate(884.0,607.6)"><circle r="6.85" fill="#808000"/><circle r="6.85" fill="url(#gso)"/></g>
<g transform="translate(889.3,606.8)"><circle r="6.85" fill="#808000"/><circle r="6.85" fill="url(#gso)"/></g>
<g transform="translate(894.5,606.0)"><circle r="6.85" fill="#808000"/><circle r="6.85" fill="url(#gso)"/></g>
<g transform="translate(899.8,605.3)"><circle r="6.85" fill="#808000"/><circle r="6.85" fill="url(#gso)"/></g>
<g transform="translate(905.0,604.7)"><circle r="6.85" fill="#808000"/><circle r="6.85" fill="url(#gso)"/></g>
<g transform="translate(910.3,604.1)"><circle r="6.85" fill="#808000"/><circle r="6.85" fill="url(#gso)"/></g>
<g transform="translate(915.5,603.2)"><circle r="6.85" fill="#808000"/><circle r="6.85" fill="url(#gso)"/></g>
<g transform="translate(920.7,602.3)"><circle r="6.85" fill="#808000"/><circle r="6.85" fill="url(#gso)"/></g>
<g transform="translate(926.0,601.3)"><circle r="6.85" fill="#808000"/><circle r="6.85" fill="url(#gso)"/></g>
<g transform="translate(931.1,600.1)"><circle r="6.85" fill="#808000"/><circle r="6.85" fill="url(#gso)"/></g>
<g transform="translate(936.2,598.6)"><circle r="6.85" fill="#808000"/><circle r="6.85" fill="url(#gso)"/></g>
<g transform="translate(941.3,597.0)"><circle r="6.85" fill="#808000"/><circle r="6.85" fill="url(#gso)"/></g>
<g transform="translate(946.3,595.4)"><circle r="6.85" fill="#808000"/><circle r="6.85" fill="url(#gso)"/></g>
<g transform="translate(951.2,593.4)"><circle r="6.85" fill="#808000"/><circle r="6.85" fill="url(#gso)"/></g>
<g transform="translate(956.1,591.3)"><circle r="6.85" fill="#808000"/><circle r="6.85" fill="url(#gso)"/></g>
<g transform="translate(961.0,589.3)"><circle r="6.85" fill="#808000"/><circle r="6.85" fill="url(#gso)"/></g>
<g transform="translate(971.0,583.5)"><circle r="6.85" fill="#808000"/><circle r="6.85" fill="url(#gso)"/></g>
<g transform="translate(979.6,577.2)"><circle r="6.85" fill="#808000"/><circle r="6.85" fill="url(#gso)"/></g>
<g transform="translate(988.1,570.1)"><circle r="6.85" fill="#808000"/><circle r="6.85" fill="url(#gso)"/></g>
<g transform="translate(996.7,562.0)"><circle r="6.85" fill="#808000"/><circle r="6.85" fill="url(#gso)"/></g>
<g transform="translate(1004.2,555.3)"><circle r="6.85" fill="#808000"/><circle r="6.85" fill="url(#gso)"/></g>
<g transform="translate(1011.3,547.2)"><circle r="6.85" fill="#808000"/><circle r="6.85" fill="url(#gso)"/></g>
<g transform="translate(1017.4,537.6)"><circle r="6.85" fill="#808000"/><circle r="6.85" fill="url(#gso)"/></g>
<g transform="translate(1023.5,527.5)"><circle r="6.85" fill="#808000"/><circle r="6.85" fill="url(#gso)"/></g>
<g transform="translate(1028.5,515.3)"><circle r="6.85" fill="#808000"/><circle r="6.85" fill="url(#gso)"/></g>
<g transform="translate(1033.6,503.2)"><circle r="6.85" fill="#808000"/><circle r="6.85" fill="url(#gso)"/></g>
<g transform="translate(1038.7,491.0)"><circle r="6.85" fill="#808000"/><circle r="6.85" fill="url(#gso)"/></g>
<g transform="translate(1041.7,474.8)"><circle r="6.85" fill="#808000"/><circle r="6.85" fill="url(#gso)"/></g>
<g transform="translate(1044.5,465.0)"><circle r="6.85" fill="#808000"/><circle r="6.85" fill="url(#gso)"/></g>
<g transform="translate(1046.8,456.6)"><circle r="6.85" fill="#808000"/><circle r="6.85" fill="url(#gso)"/></g>
<g transform="translate(1048.8,446.5)"><circle r="6.85" fill="#808000"/><circle r="6.85" fill="url(#gso)"/></g>
<g transform="translate(1049.3,444.1)"><circle r="6.85" fill="#808000"/><circle r="6.85" fill="url(#gso)"/></g>
<g transform="translate(1049.8,441.6)"><circle r="6.85" fill="#808000"/><circle r="6.85" fill="url(#gso)"/></g>
<g transform="translate(1050.3,439.2)"><circle r="6.85" fill="#808000"/><circle r="6.85" fill="url(#gso)"/></g>
<g transform="translate(1050.9,436.7)"><circle r="6.85" fill="#808000"/><circle r="6.85" fill="url(#gso)"/></g>
<g transform="translate(1051.4,434.3)"><circle r="6.85" fill="#808000"/><circle r="6.85" fill="url(#gso)"/></g>
<g transform="translate(1051.9,431.8)"><circle r="6.85" fill="#808000"/><circle r="6.85" fill="url(#gso)"/></g>
<g transform="translate(1052.4,429.4)"><circle r="6.85" fill="#808000"/><circle r="6.85" fill="url(#gso)"/></g>
<g transform="translate(1052.9,426.9)"><circle r="6.85" fill="#808000"/><circle r="6.85" fill="url(#gso)"/></g>
<g transform="translate(1053.4,424.5)"><circle r="6.85" fill="#808000"/><circle r="6.85" fill="url(#gso)"/></g>
<g transform="translate(1056.9,466.7)"><circle r="6.85" fill="#808000"/><circle r="6.85" fill="url(#gso)"/></g>
<g transform="translate(1057.3,470.0)"><circle r="6.85" fill="#808000"/><circle r="6.85" fill="url(#gso)"/></g>
<g transform="translate(1057.8,473.2)"><circle r="6.85" fill="#808000"/><circle r="6.85" fill="url(#gso)"/></g>
<g transform="translate(1058.2,476.5)"><circle r="6.85" fill="#808000"/><circle r="6.85" fill="url(#gso)"/></g>
<g transform="translate(1058.6,479.8)"><circle r="6.85" fill="#808000"/><circle r="6.85" fill="url(#gso)"/></g>
<g transform="translate(1059.1,483.1)"><circle r="6.85" fill="#808000"/><circle r="6.85" fill="url(#gso)"/></g>
<g transform="translate(1059.5,486.3)"><circle r="6.85" fill="#808000"/><circle r="6.85" fill="url(#gso)"/></g>
<g transform="translate(1059.9,489.6)"><circle r="6.85" fill="#808000"/><circle r="6.85" fill="url(#gso)"/></g>
<g transform="translate(1060.4,492.9)"><circle r="6.85" fill="#808000"/><circle r="6.85" fill="url(#gso)"/></g>
<g transform="translate(1060.8,496.1)"><circle r="6.85" fill="#808000"/><circle r="6.85" fill="url(#gso)"/></g>
<g transform="translate(1066.0,527.0)"><circle r="6.85" fill="#808000"/><circle r="6.85" fill="url(#gso)"/></g>
<g transform="translate(1072.5,548.6)"><circle r="6.85" fill="#808000"/><circle r="6.85" fill="url(#gso)"/></g>
<g transform="translate(1077.6,569.1)"><circle r="6.85" fill="#808000"/><circle r="6.85" fill="url(#gso)"/></g>
<g transform="translate(1082.8,587.2)"><circle r="6.85" fill="#808000"/><circle r="6.85" fill="url(#gso)"/></g>
<g transform="translate(1087.9,605.0)"><circle r="6.85" fill="#808000"/><circle r="6.85" fill="url(#gso)"/></g>
<g transform="translate(1093.0,616.9)"><circle r="6.85" fill="#808000"/><circle r="6.85" fill="url(#gso)"/></g>
<g transform="translate(1098.1,629.6)"><circle r="6.85" fill="#808000"/><circle r="6.85" fill="url(#gso)"/></g>
<g transform="translate(1103.3,640.9)"><circle r="6.85" fill="#808000"/><circle r="6.85" fill="url(#gso)"/></g>
<g transform="translate(1108.7,651.8)"><circle r="6.85" fill="#808000"/><circle r="6.85" fill="url(#gso)"/></g>
<path d="M1057,403.0V690.3" stroke="#000" stroke-width="3" stroke-dasharray="9.4 17.2" stroke-linecap="round"/>
<path d="M880.1,691.8v-9.0M880.1,401.5v9.0M930.8,691.8v-9.0M930.8,401.5v9.0M981.6,691.8v-9.0M981.6,401.5v9.0M1032.3,691.8v-9.0M1032.3,401.5v9.0M1083.1,691.8v-9.0M1083.1,401.5v9.0M1133.8,691.8v-9.0M1133.8,401.5v9.0M854.7,691.8v-4.5M854.7,401.5v4.5M905.4,691.8v-4.5M905.4,401.5v4.5M956.2,691.8v-4.5M956.2,401.5v4.5M1006.9,691.8v-4.5M1006.9,401.5v4.5M1057.7,691.8v-4.5M1057.7,401.5v4.5M1108.4,691.8v-4.5M1108.4,401.5v4.5M854.7,691.8h9.0M1133.8,691.8h-9.0M854.7,608.9h9.0M1133.8,608.9h-9.0M854.7,525.9h9.0M1133.8,525.9h-9.0M854.7,443.0h9.0M1133.8,443.0h-9.0M854.7,650.3h4.5M1133.8,650.3h-4.5M854.7,567.4h4.5M1133.8,567.4h-4.5M854.7,484.4h4.5M1133.8,484.4h-4.5M854.7,401.5h4.5M1133.8,401.5h-4.5" stroke="#000" stroke-width="3" stroke-linecap="round" fill="none"/>
<rect x="854.7" y="401.5" width="279.1" height="290.3" fill="none" stroke="#000" stroke-width="3" stroke-linejoin="miter"/>
<text x="875.6" y="719.2" font-size="28" text-anchor="middle" >0</text>
<text x="926.3" y="719.2" font-size="28" text-anchor="middle" >10</text>
<text x="977.1" y="719.2" font-size="28" text-anchor="middle" >20</text>
<text x="1027.8" y="719.2" font-size="28" text-anchor="middle" >30</text>
<text x="1078.6" y="719.2" font-size="28" text-anchor="middle" >40</text>
<text x="1129.3" y="719.2" font-size="28" text-anchor="middle" >50</text>
<text x="843.1" y="701.2" font-size="29" text-anchor="end" >0.5</text>
<text x="843.1" y="618.2" font-size="29" text-anchor="end" >1.0</text>
<text x="843.1" y="535.3" font-size="29" text-anchor="end" >1.5</text>
<text x="843.1" y="452.4" font-size="29" text-anchor="end" >2.0</text>
<path d="M1294.0,660.0C1300.0,660.2 1318.2,661.0 1330.0,661.0C1341.8,661.0 1356.7,660.6 1365.0,660.0C1373.3,659.4 1374.3,659.0 1380.0,657.5C1385.7,656.0 1392.7,654.4 1399.0,651.2C1405.3,648.0 1412.7,642.7 1418.0,638.5C1423.3,634.3 1427.3,630.0 1430.7,625.8C1434.1,621.6 1436.0,619.0 1438.6,613.2C1441.2,607.4 1443.9,597.9 1446.5,591.0C1449.1,584.1 1451.9,579.4 1454.4,572.0C1456.9,564.6 1459.2,556.7 1461.7,546.7C1464.2,536.7 1467.5,521.6 1469.6,511.8C1471.7,502.0 1473.0,496.8 1474.4,488.1C1475.8,479.4 1477.2,467.8 1478.2,459.6C1479.2,451.4 1480.1,444.8 1480.7,439.0C1481.3,433.2 1481.8,427.3 1482.0,425.0" fill="none" stroke="#008000" stroke-width="3"/>
<g transform="translate(1294.1,659.3)"><circle r="6.85" fill="#008000"/><circle r="6.85" fill="url(#gsg)"/></g>
<g transform="translate(1301.9,658.6)"><circle r="6.85" fill="#008000"/><circle r="6.85" fill="url(#gsg)"/></g>
<g transform="translate(1309.7,659.3)"><circle r="6.85" fill="#008000"/><circle r="6.85" fill="url(#gsg)"/></g>
<g transform="translate(1317.8,661.4)"><circle r="6.85" fill="#008000"/><circle r="6.85" fill="url(#gsg)"/></g>
<g transform="translate(1326.0,662.1)"><circle r="6.85" fill="#008000"/><circle r="6.85" fill="url(#gsg)"/></g>
<g transform="translate(1333.8,662.1)"><circle r="6.85" fill="#008000"/><circle r="6.85" fill="url(#gsg)"/></g>
<g transform="translate(1341.6,661.4)"><circle r="6.85" fill="#008000"/><circle r="6.85" fill="url(#gsg)"/></g>
<g transform="translate(1349.7,660.0)"><circle r="6.85" fill="#008000"/><circle r="6.85" fill="url(#gsg)"/></g>
<g transform="translate(1357.5,659.3)"><circle r="6.85" fill="#008000"/><circle r="6.85" fill="url(#gsg)"/></g>
<g transform="translate(1365.6,659.3)"><circle r="6.85" fill="#008000"/><circle r="6.85" fill="url(#gsg)"/></g>
<g transform="translate(1373.4,657.5)"><circle r="6.85" fill="#008000"/><circle r="6.85" fill="url(#gsg)"/></g>
<g transform="translate(1381.6,657.5)"><circle r="6.85" fill="#008000"/><circle r="6.85" fill="url(#gsg)"/></g>
<g transform="translate(1389.4,651.5)"><circle r="6.85" fill="#008000"/><circle r="6.85" fill="url(#gsg)"/></g>
<g transform="translate(1396.5,646.2)"><circle r="6.85" fill="#008000"/><circle r="6.85" fill="url(#gsg)"/></g>
<g transform="translate(1404.6,641.6)"><circle r="6.85" fill="#008000"/><circle r="6.85" fill="url(#gsg)"/></g>
<g transform="translate(1413.5,632.0)"><circle r="6.85" fill="#008000"/><circle r="6.85" fill="url(#gsg)"/></g>
<g transform="translate(1421.6,624.9)"><circle r="6.85" fill="#008000"/><circle r="6.85" fill="url(#gsg)"/></g>
<g transform="translate(1429.4,616.8)"><circle r="6.85" fill="#008000"/><circle r="6.85" fill="url(#gsg)"/></g>
<g transform="translate(1437.6,604.7)"><circle r="6.85" fill="#008000"/><circle r="6.85" fill="url(#gsg)"/></g>
<g transform="translate(1446.1,589.5)"><circle r="6.85" fill="#008000"/><circle r="6.85" fill="url(#gsg)"/></g>
<g transform="translate(1454.2,572.5)"><circle r="6.85" fill="#008000"/><circle r="6.85" fill="url(#gsg)"/></g>
<g transform="translate(1462.0,546.3)"><circle r="6.85" fill="#008000"/><circle r="6.85" fill="url(#gsg)"/></g>
<g transform="translate(1470.1,512.6)"><circle r="6.85" fill="#008000"/><circle r="6.85" fill="url(#gsg)"/></g>
<g transform="translate(1474.7,487.5)"><circle r="6.85" fill="#008000"/><circle r="6.85" fill="url(#gsg)"/></g>
<g transform="translate(1478.3,459.5)"><circle r="6.85" fill="#008000"/><circle r="6.85" fill="url(#gsg)"/></g>
<g transform="translate(1479.0,446.1)"><circle r="6.85" fill="#008000"/><circle r="6.85" fill="url(#gsg)"/></g>
<g transform="translate(1480.1,431.2)"><circle r="6.85" fill="#008000"/><circle r="6.85" fill="url(#gsg)"/></g>
<g transform="translate(1482.5,421.3)"><circle r="6.85" fill="#008000"/><circle r="6.85" fill="url(#gsg)"/></g>
<g transform="translate(1487.1,427.6)"><circle r="6.85" fill="#008000"/><circle r="6.85" fill="url(#gsg)"/></g>
<g transform="translate(1488.9,440.7)"><circle r="6.85" fill="#008000"/><circle r="6.85" fill="url(#gsg)"/></g>
<g transform="translate(1493.2,459.5)"><circle r="6.85" fill="#008000"/><circle r="6.85" fill="url(#gsg)"/></g>
<g transform="translate(1496.7,477.9)"><circle r="6.85" fill="#008000"/><circle r="6.85" fill="url(#gsg)"/></g>
<g transform="translate(1502.0,494.9)"><circle r="6.85" fill="#008000"/><circle r="6.85" fill="url(#gsg)"/></g>
<g transform="translate(1510.2,529.3)"><circle r="6.85" fill="#008000"/><circle r="6.85" fill="url(#gsg)"/></g>
<g transform="translate(1518.0,559.4)"><circle r="6.85" fill="#008000"/><circle r="6.85" fill="url(#gsg)"/></g>
<path d="M1483.6,690.3V403.0" stroke="#000" stroke-width="3" stroke-dasharray="9.4 17.2" stroke-linecap="round"/>
<path d="M1294.6,691.8v-9.0M1294.6,401.5v9.0M1374.3,691.8v-9.0M1374.3,401.5v9.0M1454.1,691.8v-9.0M1454.1,401.5v9.0M1533.8,691.8v-9.0M1533.8,401.5v9.0M1254.7,691.8v-4.5M1254.7,401.5v4.5M1334.4,691.8v-4.5M1334.4,401.5v4.5M1414.2,691.8v-4.5M1414.2,401.5v4.5M1493.9,691.8v-4.5M1493.9,401.5v4.5M1254.7,659.5h9.0M1533.8,659.5h-9.0M1254.7,595.0h9.0M1533.8,595.0h-9.0M1254.7,530.5h9.0M1533.8,530.5h-9.0M1254.7,466.0h9.0M1533.8,466.0h-9.0M1254.7,401.5h9.0M1533.8,401.5h-9.0M1254.7,691.8h4.5M1533.8,691.8h-4.5M1254.7,627.3h4.5M1533.8,627.3h-4.5M1254.7,562.8h4.5M1533.8,562.8h-4.5M1254.7,498.3h4.5M1533.8,498.3h-4.5M1254.7,433.8h4.5M1533.8,433.8h-4.5" stroke="#000" stroke-width="3" stroke-linecap="round" fill="none"/>
<rect x="1254.7" y="401.5" width="279.1" height="290.3" fill="none" stroke="#000" stroke-width="3" stroke-linejoin="miter"/>
<text x="1290.1" y="719.2" font-size="28" text-anchor="middle" >0</text>
<text x="1369.8" y="719.2" font-size="28" text-anchor="middle" >5</text>
<text x="1449.6" y="719.2" font-size="28" text-anchor="middle" >10</text>
<text x="1529.3" y="719.2" font-size="28" text-anchor="middle" >15</text>
<text x="1244.0" y="667.9" font-size="29" text-anchor="end" >1.0</text>
<text x="1244.0" y="603.4" font-size="29" text-anchor="end" >1.1</text>
<text x="1244.0" y="538.9" font-size="29" text-anchor="end" >1.2</text>
<text x="1244.0" y="474.4" font-size="29" text-anchor="end" >1.3</text>
<text x="1244.0" y="409.9" font-size="29" text-anchor="end" >1.4</text>
<text x="367.5" y="769.7" font-size="38"><tspan font-style="italic">T</tspan><tspan dx="1"> (K)</tspan></text>
<text transform="translate(32.6,458) rotate(-90)" font-size="38"><tspan font-style="italic">C</tspan><tspan font-size="23" dy="13.3">e</tspan><tspan dy="-13.3">/(</tspan><tspan font-style="italic">T</tspan><tspan font-style="italic" font-family="DejaVu Serif, serif" dx="-1">γ</tspan><tspan font-size="23" dy="13.3" dx="-4">n</tspan><tspan dy="-13.3">)</tspan></text>
<text x="717.5" y="69.8" font-size="39" text-anchor="end">(a)</text>
<text x="659" y="116.6" font-size="37">0 T</text>
<text x="659" y="163.5" font-size="37">1 T</text>
<text x="659" y="210.4" font-size="37">3 T</text>
<text x="659" y="257.3" font-size="37">5 T</text>
<text x="659" y="304.2" font-size="37">7 T</text>
<text x="659" y="351.1" font-size="37">9 T</text>
<text x="659" y="398.0" font-size="37">[5]T</text>
<text x="246.5" y="332.3" font-size="32"><tspan font-style="italic">T</tspan><tspan font-size="20" dy="-14" dx="-1.5">2</tspan><tspan dy="14" dx="-1"> (K</tspan><tspan font-size="20" dy="-14" dx="-1">2</tspan><tspan dy="14" dx="-0.5">)</tspan></text>
<text transform="translate(124.3,238) rotate(-90)" font-size="27"><tspan font-style="italic">C</tspan>/<tspan font-style="italic">T</tspan> (mJ g<tspan font-size="18" dy="-12.5">-1</tspan><tspan dy="12.5"> K</tspan><tspan font-size="18" dy="-12.5">-2</tspan><tspan dy="12.5">)</tspan></text>
<text x="964.8" y="370.8" font-size="35"><tspan font-style="italic">T</tspan>/<tspan font-style="italic">T</tspan><tspan font-size="22" dy="13">c</tspan></text>
<text transform="translate(794,236.7) rotate(-90)" font-size="35"><tspan font-style="italic">H</tspan><tspan font-size="21" dy="12.6">c2</tspan><tspan dy="-12.6"> (T)</tspan></text>
<text x="1118" y="63.6" font-size="39" text-anchor="end">(b)</text>
<text x="918.5" y="68.5" font-size="24" fill="#7b0000">GL</text>
<text x="872" y="172" font-size="24" fill="#ff7f00">WHH</text>
<text x="880" y="252" font-size="24" fill="#ff0000"><tspan font-style="italic">H</tspan><tspan font-size="16" dy="6">P</tspan><tspan dy="-6"> = 9.664 T</tspan></text>
<text x="1331.5" y="372.7" font-size="39"><tspan font-family="Liberation Serif, serif">μ</tspan><tspan font-size="24" dy="14">0</tspan><tspan dy="-14" dx="2" font-style="italic">H</tspan><tspan dx="1.5"> (T)</tspan></text>
<text transform="translate(1190,248.5) rotate(-90)" font-size="39"><tspan font-style="italic" font-family="DejaVu Serif, serif">γ</tspan><tspan font-size="23" dy="14" dx="-5">0</tspan><tspan dy="-14">(</tspan><tspan font-style="italic">H</tspan>)/<tspan font-style="italic" font-family="DejaVu Serif, serif">γ</tspan><tspan font-size="23" dy="14" dx="-5">0</tspan><tspan dy="-14">(0)</tspan></text>
<text x="1266.5" y="63.8" font-size="39">(c)</text>
<text x="931.5" y="768.3" font-size="39"><tspan font-family="Liberation Serif, serif">μ</tspan><tspan font-size="24" dy="14">0</tspan><tspan dy="-14" dx="2" font-style="italic">H</tspan><tspan dx="1.5"> (T)</tspan></text>
<text transform="translate(787.6,628) rotate(-90)" font-size="39"><tspan font-style="italic" font-family="DejaVu Serif, serif">γ</tspan>(<tspan font-style="italic">H</tspan>)/<tspan font-style="italic" font-family="DejaVu Serif, serif">γ</tspan>(0)</text>
<text x="865" y="450.1" font-size="38.5">(d) UTe<tspan font-size="23" dy="13">2</tspan></text>
<text x="862" y="496.4" font-size="38.5"><tspan font-style="italic">T</tspan> = 1.4 K</text>
<text x="975" y="640.6" font-size="38.5" font-style="italic">H<tspan font-size="24" dy="13">R</tspan></text>
<text x="1331.5" y="768.3" font-size="39"><tspan font-family="Liberation Serif, serif">μ</tspan><tspan font-size="24" dy="14">0</tspan><tspan dy="-14" dx="2" font-style="italic">H</tspan><tspan dx="1.5"> (T)</tspan></text>
<text transform="translate(1189,622) rotate(-90)" font-size="39"><tspan font-style="italic" font-family="DejaVu Serif, serif">γ</tspan>(<tspan font-style="italic">H</tspan>)/<tspan font-style="italic" font-family="DejaVu Serif, serif">γ</tspan>(0)</text>
<text x="1264" y="453.5" font-size="39">(e) URhGe</text>
<text x="1277" y="501.4" font-size="39"><tspan font-style="italic">T</tspan> = 0 K</text>
<text x="1426" y="671" font-size="38.5" font-style="italic">H<tspan font-size="24" dy="13">R</tspan></text>
</svg></body></html>
